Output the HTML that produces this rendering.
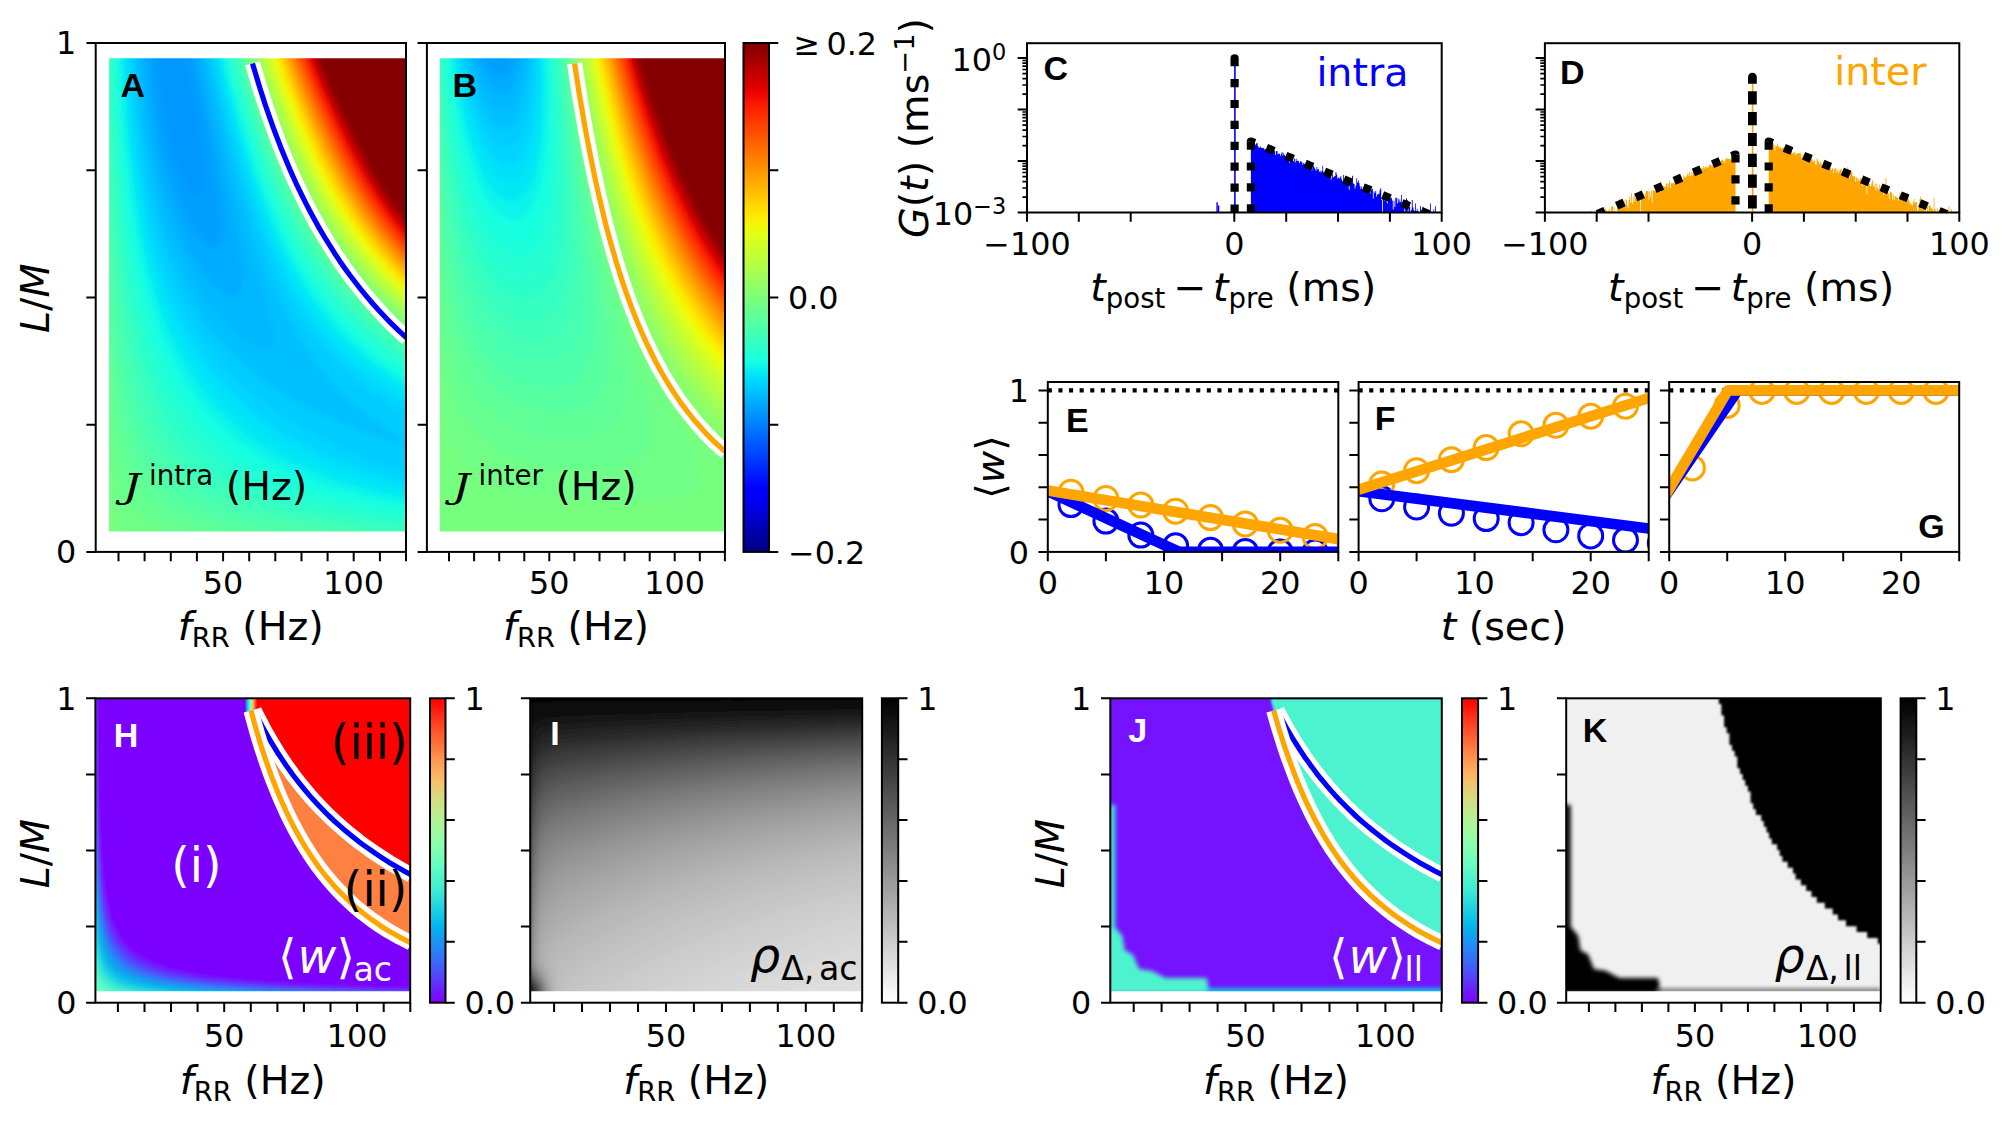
<!DOCTYPE html>
<html><head><meta charset="utf-8"><title>Figure</title>
<style>html,body{margin:0;padding:0;background:#fff}svg{display:block}text{font-family:'DejaVu Sans','Liberation Sans',sans-serif}</style></head>
<body><svg width="2008" height="1121" viewBox="0 0 2008 1121">
<rect width="2008" height="1121" fill="#fff"/>
<clipPath id="cA"><rect x="109.1" y="58.2" width="296.9" height="473.2"/></clipPath>
<g clip-path="url(#cA)">
<filter id="fcA" filterUnits="userSpaceOnUse" x="89.1" y="38.2" width="336.9" height="513.2"><feGaussianBlur stdDeviation="3"/></filter>
<g filter="url(#fcA)">
<rect x="79.1" y="28.2" width="356.9" height="533.2" fill="#0098ff"/>
<path d="M95.9,42.2 153.6,42.2 159.4,92.2 161.9,108.9 165,125.2 170.5,147.3 176,164 184.3,182.2 189.8,190.4 192.6,193.4 195.4,195.4 198.1,196.2 201.3,194.7 203.2,191.5 204.2,188.4 205.4,175.6 204.8,159.8 200.9,126.9 185.8,42.2 422,42.2 422,547.4 93.1,547.4 93.1,42.2 95.9,42.2Z" fill="#00a0ff"/>
<path d="M95.9,42.2 147,42.2 152.6,96.2 156.7,124.4 162.2,151.7 170.5,181.7 176,197.1 181.5,210.1 187.1,221 192.6,230 198.1,237.4 203.7,243.2 209.2,247 211.9,247.9 214.7,248 217.5,246.8 220.2,243.1 222.2,236 222.9,223.3 221.6,204.2 219.2,185.2 214.7,157.1 192.6,42.2 422,42.2 422,547.4 93.1,547.4 93.1,42.2 95.9,42.2Z" fill="#00acff"/>
<path d="M95.9,42.2 141.8,42.2 148,105.7 153.9,144.5 162.2,181.7 167.7,200.8 173.3,216.8 178.8,230.6 187.1,247.9 195.4,262.2 203.7,273.8 211.9,283.2 220.2,290.4 228.5,295 234.1,295.8 236.8,295.1 239.6,292.9 241.1,290 242.3,286 243,274.1 241.1,255.1 236.8,229.7 231.3,201.9 205.1,80.3 197.7,42.2 422,42.2 422,547.4 93.1,547.4 93.1,42.2 95.9,42.2Z" fill="#00b8ff"/>
<path d="M95.9,42.2 137.5,42.2 143.5,108.9 146.8,134.3 151.1,160.2 156.7,186.3 162.2,207.5 167.7,225.4 176,247.7 184.3,266 192.6,281.4 203.7,298.6 214.7,312.6 228.5,326.8 242.3,337.9 253.4,344.3 258.9,346.5 264.5,347.7 267.2,347.7 270,346.9 272.8,344 274.1,337.7 272.6,325 267.7,305.9 249.4,242.4 235.3,188.4 212.6,93 202,42.2 422,42.2 422,547.4 93.1,547.4 93.1,42.2 95.9,42.2Z" fill="#00c0ff"/>
<path d="M95.9,42.2 133.7,42.2 138.3,99.4 142.8,139.4 150.1,182 153.9,199.8 159.1,220.1 165,239.7 170.5,255.6 181.5,281.8 187.1,292.8 195.4,307.4 203.7,320.2 211.9,331.4 228.5,350.5 247.9,368.6 270,385.4 294.9,400.8 320.7,414 350.8,426.7 387.7,439.4 398.3,442.5 408.2,444.8 409.5,445.7 413.7,446.2 416.4,445.7 410.9,444.3 410,442.5 405.4,440.7 404,439.4 394.4,434.1 372.3,419.3 355.7,406.1 341.8,393.2 328,378.1 314.2,360.5 300.4,339.6 288.6,318.6 279.5,299.6 268.9,274.1 257.5,242.4 248.5,213.8 235.9,169.3 224.5,124.8 213.8,80.3 205.8,42.2 422,42.2 422,448.9 421.6,448.9 422,448.9 422,547.4 93.1,547.4 93.1,42.2 95.9,42.2Z" fill="#00ccff"/>
<path d="M95.9,42.2 130.2,42.2 134.6,101.1 138,134.3 143.4,172.5 151.1,212 159.4,243.9 165,261.3 170.5,276.5 176.1,290 184.3,307.4 198.1,331.5 206.4,343.6 214.7,354.5 225.8,367.4 236.8,378.9 247.9,389.1 261.7,400.6 275.5,410.8 289.3,420 317.6,436.2 337.2,445.7 351.8,452.1 368.1,458.4 386.7,464.8 422,474.9 422,547.4 93.1,547.4 93.1,42.2 95.9,42.2ZM211.9,42.2 422,42.2 422,421.7 402.7,412.3 380.5,399.4 364,387.8 347.4,374.2 330.8,357.9 317,341.6 303.2,322.2 291.5,302.7 280.2,280.5 268,251.9 257.5,223.3 246.2,188.4 232.7,140.7 218.3,83.5 209.3,42.2 211.9,42.2Z" fill="#00d4ff"/>
<path d="M95.9,42.2 127.1,42.2 131.4,105.7 135.2,143.9 141.6,188.4 149.1,226.5 153.9,246.1 159.4,265.3 170.5,296.5 176,309.4 184.3,326.3 198.1,349.8 206.4,361.7 217.5,375.8 228.5,388.1 238.5,398.1 249.1,407.6 261.7,417.7 274.1,426.7 289,436.2 305.9,445.7 318.7,452.1 332.9,458.4 349.1,464.8 380.5,475.1 401.1,480.7 422,485.6 422,547.4 93.1,547.4 93.1,42.2 95.9,42.2ZM214.7,42.2 422,42.2 422,410.6 399.9,398.9 380.5,386.8 364,374.7 347.4,360.5 331.2,344 317.9,328.2 304.4,309.1 293,290 281.6,267.8 270.4,242.4 259.5,213.8 248.9,182 235.8,137.5 221.7,83.5 212.4,42.2 214.7,42.2Z" fill="#00e0fb"/>
<path d="M95.9,42.2 124.1,42.2 128.1,105.7 131.9,147.1 137.8,191.5 146,236 151.1,257.5 156.7,277.2 162.2,294.1 167.7,308.9 173.3,322 180.8,337.7 187.1,349.4 195.4,363 204.3,375.8 214.7,389.1 225.6,401.2 235.2,410.8 246,420.3 258.9,430.5 271.7,439.4 286.6,448.4 299.4,455.3 312.8,461.6 328.2,468 345.9,474.3 378,483.9 422,493.9 422,547.4 93.1,547.4 93.1,42.2 95.9,42.2ZM217.5,42.2 422,42.2 422,402.1 399.9,389.8 380.5,377.2 364,364.5 350.1,352.5 336.3,338.6 322,321.8 308.7,303.5 296.4,283.7 284.7,261.4 274.5,239.2 263.1,210.6 252,178.8 238.4,134.3 226.5,89.9 215.4,42.2 217.5,42.2Z" fill="#02e8f4"/>
<path d="M95.9,42.2 121.4,42.2 125,105.7 129.1,153.4 135.1,201.1 143.1,245.6 152.4,283.7 158.3,302.7 164,318.6 170.5,334.3 176.5,347.2 184.3,361.9 192.6,375.5 201.6,388.5 211.7,401.2 220.2,410.8 231.3,421.8 244.3,433 256.2,441.9 267.2,449.3 281,457.3 295.9,464.8 310.6,471.1 327.6,477.5 341.8,482.1 358.8,487 380.5,492.5 422,500.8 422,547.4 93.1,547.4 93.1,42.2 95.9,42.2ZM220.2,42.2 422,42.2 422,394.9 402.7,383.9 383.3,371.1 366.7,358.3 350.1,343.5 336.3,329.2 322.5,312.7 310.8,296.4 298.9,277.3 287,255.1 276.6,232.8 266.2,207.4 254.8,175.6 241.8,134.3 229.5,89.9 218.1,42.2 220.2,42.2Z" fill="#0cf4eb"/>
<path d="M95.9,42.2 118.7,42.2 122.2,108.9 126.3,158.9 132,207.4 140.1,254.7 149.2,293.2 153.9,309.3 160.4,328.2 166.7,344 173.3,358.4 181.5,374.2 189.8,387.8 198.1,399.7 206.8,410.8 217.5,422.6 228.3,433 239.6,442.4 250.6,450.5 263,458.4 274.5,464.8 287.7,471.1 303.2,477.6 320.6,483.9 339.1,489.5 358.4,494.5 380.5,499.5 422,506.9 422,547.4 93.1,547.4 93.1,42.2 95.9,42.2ZM223,42.2 422,42.2 422,388.6 402.7,377.2 383.3,364 366.7,350.9 350.1,335.7 336.3,321 322.5,304 310.5,286.9 298.9,267.8 287.2,245.6 276.9,223.3 265.3,194.7 255.1,166.1 241.2,121.6 229.8,80.3 220.8,42.2 223,42.2Z" fill="#16ffe1"/>
<path d="M95.9,42.2 116.3,42.2 119.6,112.1 123.7,166.1 129.5,217 137.3,264.9 145.6,301.6 151.1,321 156.7,337.7 162.8,353.6 170.5,370.6 178.2,385.4 185.9,398.1 194.7,410.8 203.7,421.9 213.9,433 223,441.6 234.1,450.7 244.9,458.4 256.2,465.4 270,472.7 283.8,478.9 300.4,485.3 317,490.7 336.3,496.2 377.8,505.3 422,512.5 422,547.4 93.1,547.4 93.1,42.2 95.9,42.2ZM225.8,42.2 422,42.2 422,383 402.7,371.3 383.3,357.7 366.7,344.2 352.9,331.3 339.1,316.7 325.3,299.7 313.9,283.7 302,264.6 290.1,242.4 279.6,220.1 269,194.7 257.3,162.9 244.1,121.6 232.5,80.3 223.2,42.2 225.8,42.2Z" fill="#1cffdb"/>
<path d="M95.9,42.2 113.9,42.2 117.1,115.3 121.1,172.5 126.9,226.5 134.6,275.3 142.8,313.1 148.4,332.9 153.9,349.7 160.3,366.3 167.4,382.2 174,394.9 181.5,407.6 190.3,420.3 200.6,433 209.7,442.5 220.1,452.1 231.3,460.7 242.3,468 253.6,474.3 266.7,480.7 282.1,487 297.6,492.5 314.2,497.4 333.6,502.4 372.3,510.2 422,517.5 422,547.4 93.1,547.4 93.1,42.2 95.9,42.2ZM225.8,42.2 422,42.2 422,377.9 402.7,365.8 386.1,353.9 369.5,340.5 355.7,327.6 341.8,313 328.2,296.4 316.8,280.5 304.8,261.4 294.2,242.4 283.4,220.1 273.7,197.9 262.7,169.3 251.8,137.5 243.1,108.9 233.4,74 225.8,42.2Z" fill="#26ffd1"/>
<path d="M95.9,42.2 111.6,42.2 115.2,130.2 120.2,197.9 123.5,229.3 127.3,258.3 131.8,286.1 136.4,309.1 144.4,340.9 153.9,369.8 165,395.4 171.4,407.6 178.8,419.8 192.6,438.4 200.9,447.5 209,455.3 225.8,468.3 245.1,479.8 260.4,487 276.6,493.4 296.4,499.7 317,505.2 339.1,510 366.7,514.9 422,522.3 422,547.4 93.1,547.4 93.1,42.2 95.9,42.2ZM228.5,42.2 422,42.2 422,373.1 402.7,360.7 386.1,348.6 369.5,334.8 355.7,321.7 341.8,306.7 328.4,290 317,273.8 305.3,255.1 293.2,232.8 282.6,210.6 271.9,185.2 263.4,162.9 252.5,131.2 242.9,99.4 232.5,61.3 227.9,42.2 228.5,42.2Z" fill="#2cffca"/>
<path d="M95.9,42.2 109.4,42.2 112.5,128 117.3,201.1 123.5,260.5 127.3,286.9 131.8,312.3 140.1,348.3 149.7,379 160.3,404.4 166.8,417.1 173.3,427.9 178.8,436.2 187.1,446.7 194.8,455.3 201.5,461.6 209.2,468 220.2,475.9 240,487 254.3,493.4 272.8,500.1 293.2,506.1 314.2,511.1 337.5,515.6 361.2,519.4 388.8,523.1 422,526.7 422,547.4 93.1,547.4 93.1,42.2 95.9,42.2ZM231.3,42.2 422,42.2 422,368.6 402.7,355.9 386.1,343.6 369.5,329.5 355.7,316.1 343.5,302.7 330.7,286.9 319.4,271 307.5,251.9 295.3,229.7 284.5,207.4 273.6,182 263.9,156.6 254.1,128 243.4,93 230.1,42.2 231.3,42.2Z" fill="#36ffc1"/>
<path d="M95.9,42.2 107.3,42.2 110.3,134.3 114.9,210.6 120.8,271 124.7,299.6 129,325 136.8,359.9 145.6,389.1 151.1,403.7 156.7,416.2 162.2,427 169.6,439.4 181.5,455.4 189.8,464.2 198.1,471.7 206.4,478 217.5,485.2 228.5,491.2 239.6,496.3 256.2,502.6 272.8,507.8 290.9,512.4 311.4,516.8 336.3,521.1 364,524.9 422,530.9 422,547.4 93.1,547.4 93.1,42.2 95.9,42.2ZM234.1,42.2 422,42.2 422,364.3 402.7,351.4 386.1,338.8 372.3,327 357.1,312.3 342.8,296.4 330.8,281.1 319.3,264.6 307.5,245.6 295.5,223.3 284.8,201.1 274,175.6 265.5,153.4 254.6,121.6 243,83.5 232.2,42.2 234.1,42.2Z" fill="#3cffba"/>
<path d="M95.9,42.2 105.2,42.2 107.8,134.3 111.7,210.6 117.5,277.3 120.7,304 124.4,328.2 131.8,365.5 136.1,382.2 140.8,398.1 145.6,411.5 151.1,424.7 156.8,436.2 164.3,448.9 171.1,458.4 178.8,467.4 185.9,474.3 193.4,480.7 202.4,487 213,493.4 225.8,499.6 236.8,504.2 251.6,509.3 270,514.4 289.3,518.8 308.7,522.4 358.4,529.2 422,534.9 422,547.4 93.1,547.4 93.1,42.2 95.9,42.2ZM236.8,42.2 422,42.2 422,360.3 405.4,349.2 388.8,336.6 372.3,322.3 358.4,308.7 344.6,293.2 332.1,277.3 321,261.4 309.2,242.4 297.1,220.1 286.4,197.9 276.7,175.6 265.7,147.1 252.9,108.9 241.7,70.8 234.3,42.2 236.8,42.2Z" fill="#46ffb1"/>
<path d="M95.9,42.2 103.2,42.2 105.6,140.7 109.3,220.1 114.5,286.9 120.7,337.8 124.5,359.9 128.4,379 132.3,394.9 136.9,410.8 141.3,423.5 146.6,436.2 152.9,448.9 158.6,458.4 165.5,468 173.3,476.7 180.9,483.9 189.1,490.2 199,496.6 209.2,502 220.2,506.9 234.1,512 250.6,516.9 267.2,520.9 289.3,525.2 309.8,528.3 361.2,534.2 422,538.7 422,547.4 93.1,547.4 93.1,42.2 95.9,42.2ZM236.8,42.2 422,42.2 422,356.5 405.4,345.1 388.8,332.3 375,320.3 360.3,305.9 346.1,290 333.7,274.1 322.5,258.2 311.4,240.4 301.9,223.3 290.7,201.1 279.4,175.6 269.4,150.2 260.3,124.8 250.2,93 240.3,58.1 236.3,42.2 236.8,42.2Z" fill="#4dffaa"/>
<path d="M95.9,42.2 101.3,42.2 103.4,143.9 106.4,223.3 110.8,290 116.4,344 119.7,366.3 123.5,387.5 127.2,404.4 131.5,420.3 135.6,433 140.5,445.7 145.6,456.7 152.2,468 159.2,477.5 165,484 173.3,491.7 181.5,497.9 189.8,503.1 201.9,509.3 214.7,514.4 228,518.8 245.1,523.3 261.7,526.8 303.2,533.1 355.7,538.2 422,542.4 422,547.4 93.1,547.4 93.1,42.2 95.9,42.2ZM239.6,42.2 422,42.2 422,352.8 405.4,341.3 388.8,328.2 375,316 361.2,302.3 347.5,286.9 335,271 323.9,255.1 312.1,236 301.5,217 290.5,194.7 279.4,169.3 270.6,147.1 260.4,118.5 249.5,83.5 238.2,42.2 239.6,42.2Z" fill="#56ffa0"/>
<path d="M95.9,42.2 99.4,42.2 101.2,150.2 103.8,232.8 107.5,299.6 112.4,354.6 118.1,394.9 121.7,414 125.5,429.8 130.2,445.7 134.6,457.4 139.4,468 144.9,477.5 151.9,487 159.4,495.1 167.7,502.2 176,507.8 187.1,513.7 198.1,518.5 209.2,522.3 223,526.2 253.4,532.3 292.1,537.5 347.4,542.1 422,545.9 422,547.4 93.1,547.4 93.1,42.2 95.9,42.2ZM242.3,42.2 422,42.2 422,349.3 405.4,337.6 388.8,324.3 375,311.9 361.2,297.9 348.7,283.7 336.3,267.8 325.2,251.9 313.3,232.8 301.1,210.6 290.2,188.4 280.5,166.1 270.5,140.7 259.4,108.9 248.7,74 240.1,42.2 242.3,42.2Z" fill="#60ff97"/>
<path d="M95.9,42.2 97.6,42.2 99.1,159.8 101.6,255.1 104.2,310.6 107.7,359.9 112.4,403.3 118.1,436.2 121.1,448.9 124.8,461.6 129,472.8 134.4,483.9 140.1,492.8 145.7,499.7 152.1,506.1 160.3,512.4 167.7,517 177.8,522 189.8,526.5 200.9,529.8 228.5,535.7 264.5,540.5 308.7,544.3 367.6,547.4 93.1,547.4 93.1,42.2 95.9,42.2ZM242.3,42.2 422,42.2 422,345.9 405.4,334 391.6,322.9 377.8,310.6 363.7,296.4 350.1,281.1 339.1,267 328,251.4 316.3,232.8 305.5,213.8 294.3,191.5 284.3,169.3 275.2,147.1 265.8,121.6 257.4,96.2 247,61.3 241.9,42.2 242.3,42.2Z" fill="#66ff90"/>
<path d="M95.8,45.4 98,232.8 99.7,299.6 102.1,353.6 105.1,398.1 109.3,436.2 113.7,461.6 116.9,474.3 120,483.9 123.5,492.4 127.4,499.7 131.8,506.4 137,512.4 142.8,517.9 148.4,521.9 162.2,529.2 170.5,532.4 181.5,535.7 203.7,540.3 233.8,544.2 273,547.4 93.1,547.4 93.1,42.2 95.8,42.2 95.8,45.4ZM245.1,42.2 422,42.2 422,342.6 405.4,330.5 391.6,319.3 377.8,306.8 364,292.7 350.6,277.3 338.3,261.4 327.2,245.6 315.4,226.5 304.8,207.4 293.8,185.2 282.5,159.8 273.7,137.5 263.5,108.9 254.4,80.3 243.7,42.2 245.1,42.2Z" fill="#70ff87"/>
<path d="M94.1,45.4 95.1,232.8 97.2,353.6 98.6,398.1 100.7,436.2 102.9,461.6 106,483.9 109.7,500 114.3,512.4 120,522 126.3,528.8 134.6,534.7 140.9,537.9 148.4,540.7 162.2,544.3 181.4,547.4 93.1,547.4 93.1,42.2 94.1,42.2 94.1,45.4ZM247.9,42.2 422,42.2 422,339.5 405.4,327.2 391.6,315.8 377.8,303.1 364,288.8 351.3,274.1 339.1,258.3 328,242.2 316.3,223.3 304.1,201.1 294.7,182 284.8,159.8 274.6,134.3 263.3,102.6 252.5,67.6 245.4,42.2 247.9,42.2Z" fill="#77ff80"/>
<path d="M247.9,42.2 422,42.2 422,336.5 408.2,326.2 394.4,314.9 380.5,302.2 365.5,286.9 351.9,271 339.8,255.1 328.8,239.2 319,223.3 308.2,204.2 297.6,183.2 287,159.8 278.3,138.5 267.4,108.9 259.1,83.5 248,45.4 247.2,42.2 247.9,42.2Z" fill="#80ff77"/>
<path d="M250.6,42.2 422,42.2 422,333.8 406.2,321.8 391.6,309.5 377.8,296.4 365.7,283.7 352.9,268.6 341.8,254.2 330.8,238.2 319.6,220.1 309,201.1 299.3,182 287.9,156.6 278.8,134.3 268.4,105.7 258.1,74 249,42.2 250.6,42.2Z" fill="#87ff70"/>
<path d="M253.4,42.2 422,42.2 422,331.3 405.6,318.6 391.6,306.6 377.8,293.3 365.8,280.5 352.9,265.2 341.8,250.5 330.8,234.3 320.2,217 309.6,197.9 298.6,175.6 288.7,153.4 279.7,131.2 268.3,99.4 257.2,64.4 250.8,42.2 253.4,42.2Z" fill="#90ff66"/>
<path d="M253.4,42.2 422,42.2 422,328.8 405.4,315.9 391.6,303.8 377.8,290.3 366.7,278.4 355.1,264.6 343.1,248.7 332.3,232.8 322.5,217 311.9,197.9 302.3,178.8 293.6,159.8 284.3,137.5 274.7,112.1 266,86.7 252.6,42.2 253.4,42.2Z" fill="#97ff60"/>
<path d="M256.2,42.2 422,42.2 422,326.4 408,315.5 394.4,303.6 380.5,290.2 368.5,277.3 355.7,262 344.6,247.3 333.6,231 323,213.8 312.5,194.7 301.5,172.5 291.6,150.2 282.6,128 272.2,99.4 262.8,70.8 254.3,42.2 256.2,42.2Z" fill="#a0ff56"/>
<path d="M256.2,42.2 422,42.2 422,324 408.2,313 394.4,300.9 380.5,287.4 369.5,275.4 357.8,261.4 345.8,245.6 335,229.7 325.3,213.8 316.4,197.9 306.6,178.8 296.4,156.6 288.4,137.5 279.8,115.3 270.8,89.9 262.6,64.4 256.2,42.2Z" fill="#aaff4d"/>
<path d="M258.9,42.2 422,42.2 422,321.6 408.2,310.6 394.4,298.3 380.5,284.6 369.5,272.4 357.8,258.3 345.9,242.4 335.3,226.5 325.6,210.6 315.1,191.5 307.2,175.6 297,153.4 287.8,131.2 277.1,102.6 268.4,77.2 257.7,42.2 258.9,42.2Z" fill="#b1ff46"/>
<path d="M261.7,42.2 422,42.2 422,319.3 408.2,308.1 394.4,295.6 382.4,283.7 369.5,269.5 357.7,255.1 346,239.2 335.5,223.3 326,207.4 315.6,188.4 306.2,169.3 296.3,147.1 287.2,124.8 274.4,89.9 265.1,61.3 259.4,42.2 261.7,42.2Z" fill="#baff3c"/>
<path d="M261.7,42.2 422,42.2 422,317 408.5,305.9 397.1,295.7 385,283.7 372.3,269.8 361.2,256.5 350.1,241.8 339.7,226.5 329.9,210.6 321,194.7 311.2,175.6 302.4,156.6 292.9,134.3 283,108.9 274,83.5 261,42.2 261.7,42.2Z" fill="#c1ff36"/>
<path d="M264.5,42.2 422,42.2 422,314.8 408.2,303.3 397.1,293.2 384.5,280.5 372.3,267 361.2,253.5 350.6,239.2 339.8,223.3 330.2,207.4 319.7,188.4 310.1,169.3 301.5,150.2 290.9,124.8 279,93 269.4,64.4 262.6,42.2 264.5,42.2Z" fill="#caff2c"/>
<path d="M264.5,42.2 422,42.2 422,312.5 408.2,300.9 396.4,290 383.9,277.3 372.6,264.6 361.2,250.5 350.5,236 332.2,207.4 323.3,191.5 313.6,172.5 296.6,134.3 287.8,112.1 277.4,83.5 268,54.9 264.5,42.2Z" fill="#d1ff26"/>
<path d="M267.2,42.2 422,42.2 422,310.3 408.2,298.6 395.7,286.9 383.4,274.1 372.3,261.4 361.2,247.6 350.4,232.8 332.4,204.2 323.6,188.4 314,169.3 305.2,150.2 295.8,128 284.8,99.4 274.7,70.8 265.6,42.2 267.2,42.2Z" fill="#dbff1c"/>
<path d="M267.2,42.2 422,42.2 422,308.2 408.3,296.4 397.1,285.8 385.8,274.1 374.5,261.4 364,248.4 352.9,233.3 344.1,220.1 334.4,204.2 323.8,185.2 315.8,169.3 298.9,131.2 281.8,86.7 267.2,42.2Z" fill="#e4ff13"/>
<path d="M270,42.2 422,42.2 422,306 408.2,294 397.1,283.4 385.2,271 374.1,258.3 363.9,245.6 352.9,230.4 344,217 334.5,201.1 325.7,185.2 316.1,166.1 307.4,147.1 298,124.8 288.1,99.4 277.9,70.8 268.6,42.2 270,42.2Z" fill="#ebff0c"/>
<path d="M272.8,42.2 422,42.2 422,303.9 408.2,291.7 396.6,280.5 384.6,267.8 373.6,255.1 363.6,242.4 352.9,227.4 344,213.8 334.6,197.9 324.3,178.8 314.9,159.8 305,137.5 295.9,115.3 282.7,80.3 270.1,42.2 272.8,42.2Z" fill="#f4f802"/>
<path d="M272.8,42.2 422,42.2 422,301.8 408.7,290 397.1,278.7 386.1,267 375,254.1 364,240.1 354.3,226.5 336.4,197.9 327.7,182 318.2,162.9 301.4,124.8 282,74 271.6,42.2 272.8,42.2Z" fill="#fbf100"/>
<path d="M275.5,42.2 422,42.2 422,299.7 410.9,289.9 398,277.3 386.1,264.6 375.3,251.9 356.2,226.5 338.3,197.9 327.9,178.8 318.4,159.8 309.8,140.7 299.1,115.3 284.7,77.2 273,42.2 275.5,42.2Z" fill="#ffe600"/>
<path d="M275.5,42.2 422,42.2 422,297.7 399.9,277 388.3,264.6 377.4,251.9 358.2,226.5 340.1,197.9 331.3,182 321.7,162.9 304.6,124.8 285,74 274.4,42.2 275.5,42.2Z" fill="#ffde00"/>
<path d="M278.3,42.2 422,42.2 422,295.6 399.3,274.1 387.6,261.4 376.8,248.7 357.9,223.3 340.1,194.7 331.4,178.8 321.8,159.8 313.1,140.7 302.3,115.3 287.6,77.2 275.8,42.2 278.3,42.2Z" fill="#ffd300"/>
<path d="M278.3,42.2 422,42.2 422,293.6 410.9,283.5 398.4,271 377.8,247.5 359.8,223.3 341.8,194.7 333.1,178.8 323.5,159.8 306.5,121.6 296.3,96.2 286.8,70.8 277.1,42.2 278.3,42.2Z" fill="#ffcc00"/>
<path d="M281,42.2 422,42.2 422,291.6 399.9,270.3 388.8,258.2 377.8,245.1 359.4,220.1 341.8,191.5 323.6,156.6 304.1,112.1 290.5,77.2 278.5,42.2 281,42.2Z" fill="#ffc100"/>
<path d="M281,42.2 422,42.2 422,289.6 399.6,267.8 388.1,255.1 377.8,242.6 359.1,217 343.5,191.5 326.8,159.8 308.3,118.5 296.7,89.9 288.5,67.6 279.8,42.2 281,42.2Z" fill="#ffb600"/>
<path d="M283.8,42.2 422,42.2 422,287.6 399.9,265.9 379.5,242.4 360.9,217 343.4,188.4 333.2,169.3 323.8,150.2 304.5,105.7 293.3,77.2 281.2,42.2 283.8,42.2Z" fill="#ffae00"/>
<path d="M283.8,42.2 422,42.2 422,285.7 399.9,263.8 378.8,239.2 361.2,214.7 345,188.4 326.9,153.4 309.9,115.3 298.4,86.7 290.1,64.4 282.4,42.2 283.8,42.2Z" fill="#ffa300"/>
<path d="M283.8,42.2 422,42.2 422,283.8 399.9,261.7 380.7,239.2 362.3,213.8 346.7,188.4 331.6,159.8 315.5,124.8 298.5,83.5 283.8,42.2Z" fill="#ff9c00"/>
<path d="M286.6,42.2 422,42.2 422,281.9 399.9,259.6 380.5,236.7 361.9,210.6 346.5,185.2 328.5,150.2 310.2,108.9 299.9,83.5 290.5,58.1 285,42.2 286.6,42.2Z" fill="#ff9100"/>
<path d="M286.6,42.2 422,42.2 422,280 400.6,258.3 381.8,236 364,211.2 348.1,185.2 331.5,153.4 315.7,118.5 298.8,77.2 290.6,54.9 286.6,42.2Z" fill="#ff8900"/>
<path d="M289.3,42.2 422,42.2 422,278.1 399.9,255.4 381.1,232.8 364,208.6 347.9,182 331.5,150.2 313,108.9 298.9,74 287.5,42.2 289.3,42.2Z" fill="#ff7e00"/>
<path d="M289.3,42.2 422,42.2 422,276.2 401.4,255.1 383.3,233.5 366.9,210.6 351.3,185.2 334.5,153.4 318.5,118.5 300.2,74 288.8,42.2 289.3,42.2Z" fill="#ff7700"/>
<path d="M292.1,42.2 422,42.2 422,274.3 402.7,254.4 383.3,231.3 366.4,207.4 351,182 332.9,147.1 313.1,102.6 301.5,74 290,42.2 292.1,42.2Z" fill="#ff6c00"/>
<path d="M292.1,42.2 422,42.2 422,272.5 402.2,251.9 383.8,229.7 368.1,207.4 352.6,182 335.9,150.2 318.5,112.1 299.2,64.4 291.2,42.2 292.1,42.2Z" fill="#ff6000"/>
<path d="M294.9,42.2 422,42.2 422,270.7 402.7,250.5 385.4,229.7 367.6,204.2 352.3,178.8 342.1,159.8 332.8,140.7 313.1,96.2 301.6,67.6 292.4,42.2 294.9,42.2Z" fill="#ff5900"/>
<path d="M294.9,42.2 422,42.2 422,268.9 402.7,248.5 384.7,226.5 369.1,204.2 353.8,178.8 337.3,147.1 318.5,105.7 307.8,80.3 299.3,58.1 293.6,42.2 294.9,42.2Z" fill="#ff4e00"/>
<path d="M294.9,42.2 422,42.2 422,267.1 402.7,246.5 386.3,226.5 370.7,204.2 355.3,178.8 340.2,150.2 324,115.3 307.8,77.2 294.9,42.2Z" fill="#ff4700"/>
<path d="M297.6,42.2 422,42.2 422,265.3 402.7,244.6 385.5,223.3 370.2,201.1 355,175.6 337,140.7 318.3,99.4 306.5,70.8 295.9,42.2 297.6,42.2Z" fill="#ff3b00"/>
<path d="M297.6,42.2 422,42.2 422,263.5 402.7,242.7 387.1,223.3 371.7,201.1 356.4,175.6 339.9,143.9 323.8,108.9 307.7,70.8 297.1,42.2 297.6,42.2Z" fill="#ff3400"/>
<path d="M300.4,42.2 422,42.2 422,261.7 402.7,240.7 386.3,220.1 371.1,197.9 356.1,172.5 338.2,137.5 318.1,93 307.7,67.6 298.2,42.2 300.4,42.2Z" fill="#ff2900"/>
<path d="M300.4,42.2 422,42.2 422,260 403,239.2 387.9,220.1 372.6,197.9 357.5,172.5 341.1,140.7 323.5,102.6 306.4,61.3 299.3,42.2 300.4,42.2Z" fill="#ff1e00"/>
<path d="M303.2,42.2 422,42.2 422,258.2 404.6,239.2 387.1,217 372.1,194.7 357.1,169.3 337.8,131.2 317.9,86.7 300.5,42.2 303.2,42.2Z" fill="#ff1600"/>
<path d="M303.2,42.2 422,42.2 422,256.5 405.4,238.3 388.8,217.3 373.5,194.7 360.3,172.5 342.2,137.5 321.8,93 311.2,67.6 301.6,42.2 303.2,42.2Z" fill="#f60b00"/>
<path d="M303.2,42.2 422,42.2 422,254.8 405,236 390.1,217 375,194.8 361.7,172.5 346.6,143.9 328.7,105.7 312.4,67.6 302.7,42.2 303.2,42.2Z" fill="#ed0400"/>
<path d="M305.9,42.2 422,42.2 422,253.1 405.4,234.6 389.3,213.8 374.4,191.5 359.5,166.1 341.7,131.2 321.5,86.7 303.8,42.2 305.9,42.2Z" fill="#df0000"/>
<path d="M305.9,42.2 422,42.2 422,251.4 405.5,232.8 390.7,213.8 375.8,191.5 362.6,169.3 346.1,137.5 326.8,96.2 309.6,54.9 304.8,42.2 305.9,42.2Z" fill="#d60000"/>
<path d="M308.7,42.2 422,42.2 422,249.7 405.4,230.9 389.9,210.6 375.2,188.4 360.4,162.9 342.7,128 321.1,80.3 305.9,42.2 308.7,42.2Z" fill="#c80000"/>
<path d="M308.7,42.2 422,42.2 422,248 405.9,229.7 391.4,210.6 376.5,188.4 363.5,166.1 345.5,131.2 326.4,89.9 315.6,64.4 307,42.2 308.7,42.2Z" fill="#bf0000"/>
<path d="M308.7,42.2 422,42.2 422,246.4 407.4,229.7 392.8,210.6 377.9,188.4 364.8,166.1 348.3,134.3 328.9,93 315.4,61.3 308,42.2 308.7,42.2Z" fill="#b20000"/>
<path d="M311.4,42.2 422,42.2 422,244.7 406.3,226.5 391.6,206.9 377.3,185.2 362.6,159.8 346.4,128 325.8,83.5 309.1,42.2 311.4,42.2Z" fill="#a40000"/>
<path d="M311.4,42.2 422,42.2 422,243.1 407.7,226.5 393.3,207.4 378.6,185.2 365.7,162.9 349.2,131.2 329.8,89.9 320.2,67.6 310.1,42.2 311.4,42.2Z" fill="#9b0000"/>
<path d="M311.4,42.2 422,42.2 422,241.4 406.6,223.3 392.5,204.2 380,185.2 366.7,162.6 352,134.3 332.4,93 319.7,63.9 311.4,42.2Z" fill="#8d0000"/>
<path d="M314.2,42.2 422,42.2 422,239.8 408.1,223.3 393.8,204.2 379.3,182 366.4,159.8 350,128 330.6,86.7 313.4,45.4 312.6,42.2 314.2,42.2Z" fill="#840000"/>
</g>
</g>
<clipPath id="axA"><rect x="95.7" y="43" width="310.3" height="508.9"/></clipPath>
<g stroke-linejoin="round" clip-path="url(#axA)"><polyline points="252.5,63.4 254.6,70.4 256.7,77.5 258.8,84.5 261,91.6 263.3,98.6 265.6,105.7 268,112.7 270.5,119.8 273,126.8 275.6,133.9 278.3,140.9 281,148 283.9,155.1 286.8,162.1 289.8,169.2 292.9,176.2 296.1,183.3 299.5,190.3 302.9,197.4 306.4,204.4 310.1,211.5 313.9,218.5 317.8,225.6 321.9,232.6 326.1,239.7 330.5,246.7 335,253.8 339.7,260.9 344.6,267.9 349.7,275 355.1,282 360.6,289.1 366.4,296.1 372.4,303.2 378.7,310.2 385.3,317.3 392.2,324.3 399.5,331.4 407.1,338.4" fill="none" stroke="#fff" stroke-width="15.2" /><polyline points="252.5,63.4 254.6,70.4 256.7,77.5 258.8,84.5 261,91.6 263.3,98.6 265.6,105.7 268,112.7 270.5,119.8 273,126.8 275.6,133.9 278.3,140.9 281,148 283.9,155.1 286.8,162.1 289.8,169.2 292.9,176.2 296.1,183.3 299.5,190.3 302.9,197.4 306.4,204.4 310.1,211.5 313.9,218.5 317.8,225.6 321.9,232.6 326.1,239.7 330.5,246.7 335,253.8 339.7,260.9 344.6,267.9 349.7,275 355.1,282 360.6,289.1 366.4,296.1 372.4,303.2 378.7,310.2 385.3,317.3 392.2,324.3 399.5,331.4 407.1,338.4" fill="none" stroke="#0000ff" stroke-width="5.2" /></g>
<clipPath id="cB"><rect x="439.8" y="58.2" width="285.2" height="473.2"/></clipPath>
<g clip-path="url(#cB)">
<filter id="fcB" filterUnits="userSpaceOnUse" x="419.8" y="38.2" width="325.2" height="513.2"><feGaussianBlur stdDeviation="3"/></filter>
<g filter="url(#fcB)">
<rect x="409.8" y="28.2" width="345.2" height="533.2" fill="#008cff"/>
<path d="M426.5,42.2 492.3,42.2 495.8,44.1 498.4,44.4 501.1,43.6 503.2,42.2 741,42.2 741,547.4 423.8,547.4 423.8,42.2 426.5,42.2Z" fill="#0098ff"/>
<path d="M426.5,42.2 481.5,42.2 485.1,49.1 490.4,56.3 495.8,60.1 498.4,60.8 501.1,60.5 503.8,59.3 506.4,57 510,51.7 514.1,42.2 741,42.2 741,547.4 423.8,547.4 423.8,42.2 426.5,42.2Z" fill="#00a0ff"/>
<path d="M426.5,42.2 475.4,42.2 482.4,59.6 487.8,68.6 493.1,74.5 495.8,76.2 498.4,77.2 501.1,77.4 503.8,76.7 506.4,75 509.1,72.3 511.8,68.2 514.4,62.5 517.1,54.9 520.1,42.2 741,42.2 741,547.4 423.8,547.4 423.8,42.2 426.5,42.2Z" fill="#00acff"/>
<path d="M426.5,42.2 470.6,42.2 477.1,62.7 479.8,69.3 485.1,80 487.8,84.2 493.1,90.4 498.4,93.7 501.1,94.3 503.8,94 506.4,92.9 509.1,90.9 511.8,87.8 514.4,83.3 517.1,77.2 520.1,67.6 522.4,57.5 524.9,42.2 741,42.2 741,547.4 423.8,547.4 423.8,42.2 426.5,42.2Z" fill="#00b8ff"/>
<path d="M426.5,42.2 466.6,42.2 474.4,70.9 479.8,85 485.1,95.7 490.4,103.6 495.8,108.7 501.1,111.1 503.8,111.3 506.4,110.7 509.1,109.3 511.8,107 516.8,99.4 519.8,92.4 522.4,83.7 525.1,71.6 528.9,42.2 741,42.2 741,547.4 423.8,547.4 423.8,42.2 426.5,42.2Z" fill="#00c0ff"/>
<path d="M426.5,42.2 463,42.2 466.4,58.3 471.8,78.5 477.1,94.3 482.4,106.7 487.8,116 493.1,122.7 498.4,126.9 503.8,128.6 506.4,128.5 509.1,127.6 511.8,126 514.4,123.4 519.5,115.3 522.4,108.2 525.8,96.2 528.8,80.3 530.8,64.4 532.5,42.2 741,42.2 741,547.4 423.8,547.4 423.8,42.2 426.5,42.2Z" fill="#00ccff"/>
<path d="M426.5,42.2 459.8,42.2 463.8,63.3 469.1,85.7 474.4,103.3 479.8,117.1 485.1,127.8 487.8,132.2 493.1,139 495.8,141.6 501.1,145.1 506.4,146.2 511.8,144.8 517.1,140.2 522.4,131.4 527,118.5 530.4,102.9 532.7,86.7 534.4,67.6 535.8,42.2 741,42.2 741,547.4 423.8,547.4 423.8,42.2 426.5,42.2Z" fill="#00d4ff"/>
<path d="M426.5,42.2 456.8,42.2 461.1,67.7 466.4,92.4 471.8,111.8 479.8,133.5 485.1,144.2 493.1,155.6 495.8,158.3 501.1,162.2 506.4,163.9 509.1,164 514.4,162.2 517.1,160.3 522.4,153.7 527.1,143.9 530.4,133.1 533.4,118.5 536.2,96.2 537.9,70.8 538.7,42.2 741,42.2 741,547.4 423.8,547.4 423.8,42.2 426.5,42.2Z" fill="#00e0fb"/>
<path d="M426.5,42.2 454,42.2 458.5,71.5 463.8,98.8 469.1,120.1 477.1,144 485.1,160.9 493.1,172.4 495.8,175.2 501.1,179.4 506.4,181.7 509.1,182.1 514.4,181.3 517.1,180 519.8,178.1 524.5,172.5 527.8,166.8 530.4,160.4 534.2,147.1 537.6,128 539.8,105.7 541.2,77.2 541.5,42.2 741,42.2 741,547.4 423.8,547.4 423.8,42.2 426.5,42.2Z" fill="#02e8f4"/>
<path d="M426.5,42.2 451.4,42.2 455.8,74.6 461.1,104.8 466.4,128.1 474.4,154.3 482.4,172.9 487.8,182.2 493.1,189.4 498.4,194.8 503.8,198.4 509.1,200.3 511.8,200.5 517.1,199.6 519.8,198.3 524.2,194.7 527.8,190.3 530.4,185.7 533.4,178.8 535.8,171.7 538.4,160.7 541.5,140.7 543.7,112.1 544.4,80.3 544.1,42.2 741,42.2 741,547.4 423.8,547.4 423.8,42.2 426.5,42.2Z" fill="#0cf4eb"/>
<path d="M426.5,42.2 448.9,42.2 453.6,80.3 460,118.5 466.4,146.7 474.4,172.1 482.4,190.3 487.8,199.5 493.1,206.8 498.4,212.3 503.8,216.2 509.1,218.5 514.4,219.3 519.8,218.3 525.1,215.3 527.8,212.9 531.8,207.4 535.8,199.9 538.4,192.8 542.6,175.6 545.5,153.4 547.2,124.8 547.6,89.9 546.6,42.2 741,42.2 741,547.4 423.8,547.4 423.8,42.2 426.5,42.2Z" fill="#16ffe1"/>
<path d="M426.5,42.2 446.6,42.2 453.1,98.6 460.4,140.7 463.8,155.5 469.1,174.9 474.4,190.4 479.8,202.9 487.8,217.2 493.1,224.4 498.4,230 503.8,234.2 509.1,236.9 514.4,238.3 517.1,238.4 522.4,237.5 527.8,234.8 533.1,229.7 535.8,225.9 538.9,220.1 542.5,210.6 547,191.5 549.9,166.1 551.1,134.3 550.9,96.2 548.9,42.2 741,42.2 741,547.4 423.8,547.4 423.8,42.2 426.5,42.2Z" fill="#1cffdb"/>
<path d="M426.5,42.2 444.3,42.2 450.5,101.8 457.5,147.1 461.1,164.5 466.4,185.5 471.8,202.1 477.1,215.6 482.4,226.5 487.8,235.3 493.1,242.5 498.4,248.2 503.8,252.5 509.1,255.6 514.4,257.4 519.8,258 525.1,257.2 530.4,254.9 535.8,250.5 541.1,243.2 543.7,238 546.9,229.7 549.5,220.1 551.8,207.4 554.4,179.8 555.1,147.1 554.2,105.7 551.2,42.2 741,42.2 741,547.4 423.8,547.4 423.8,42.2 426.5,42.2Z" fill="#26ffd1"/>
<path d="M426.5,42.2 442.1,42.2 447.8,104.3 451.2,131.2 455.2,156.6 458.9,175.6 463.8,196.4 469.1,214.3 474.4,228.6 479.8,240.3 485.1,249.9 490.4,257.7 495.8,264 501.1,269.1 509.1,274.5 517.1,277.4 522.4,278 530.4,276.7 535.5,274.1 541.1,269.3 544.6,264.6 549.1,256.3 551.9,248.7 554.5,239.2 557.1,223.9 559.2,194.7 559.4,159.8 557.4,108.9 553.3,42.2 741,42.2 741,547.4 423.8,547.4 423.8,42.2 426.5,42.2Z" fill="#2cffca"/>
<path d="M426.5,42.2 440.1,42.2 445.4,108.9 448.7,137.5 452.7,166.1 456.8,188.4 461.1,207.9 466.4,227 471.8,242.3 477.1,254.7 482.4,264.8 487.8,273.2 495.8,283 501.1,288.1 509.1,293.7 517.1,297.2 525.1,298.6 533.1,297.7 538.4,295.6 543.7,291.9 549.1,286.1 554.2,277.3 557.1,269.9 560.2,258.3 562.4,245 563.8,229.7 564.5,213.8 564,175.6 561.4,124.8 555.4,42.2 741,42.2 741,547.4 423.8,547.4 423.8,42.2 426.5,42.2Z" fill="#36ffc1"/>
<path d="M426.5,42.2 438.1,42.2 443.2,115.3 446.5,147.1 450.2,175.6 453.9,197.9 458.5,220.2 463.8,240.6 469.1,256.7 474.4,269.8 481.6,283.7 487.8,293.1 495.8,302.7 503.8,309.8 511.8,314.9 517.1,317.3 522.4,318.9 530.4,319.8 538.4,318.7 545.8,315.5 551.7,310.8 557.1,304.2 561.2,296.4 565.1,285.2 567.5,274.1 569.1,261.4 570.4,232.8 569.1,191.5 565.2,134.3 557.4,42.2 741,42.2 741,547.4 423.8,547.4 423.8,42.2 426.5,42.2Z" fill="#3cffba"/>
<path d="M426.5,42.2 436.1,42.2 438.5,86.7 441.2,124.8 444.5,159.8 447.8,187.1 451.4,210.6 455.8,233.7 461.1,255.3 467.1,274.1 473.7,290 479.8,301.8 487.8,313.9 495.8,323.1 503.8,330.1 514.4,336.7 525.1,340.5 535.8,341.6 543.7,340.6 551.7,337.5 556.2,334.5 559.7,331.4 564.8,325 569.6,315.5 572.7,305.9 574.7,296.4 576.3,283.7 577.1,255.1 575.2,213.8 570.6,159.8 559.4,42.2 741,42.2 741,547.4 423.8,547.4 423.8,42.2 426.5,42.2Z" fill="#46ffb1"/>
<path d="M426.5,42.2 434.2,42.2 438.9,131.2 442,169.3 445.1,198.1 449.1,226.5 453.8,251.9 458.5,271.7 465.1,293.2 471.8,309.5 479.8,324.4 487.8,335.7 495.8,344.5 506.4,353.1 517.1,359.1 522.4,361.2 530.4,363.3 541.1,364.3 551.7,362.9 559.7,359.9 567.7,354.2 573.1,348 577.2,340.9 581.1,330.3 583.5,318.6 584.8,305.9 585.2,293.2 585,277.3 582.4,239.2 561.3,42.2 741,42.2 741,547.4 423.8,547.4 423.8,42.2 426.5,42.2Z" fill="#4dffaa"/>
<path d="M426.5,42.2 432.4,42.2 434.5,96.7 437.4,150.2 440.8,194.7 445.1,233.1 449,258.3 453.1,279.3 457.4,296.4 462.4,312.3 469.1,329.1 477.1,344.2 485.1,355.6 495.8,367 506.4,375.3 519.8,382.3 533.1,386.5 546.4,388 557.1,387.2 565.1,385.2 573.1,381.4 581.1,374.8 586.4,367.6 591.1,356.8 593.9,344 595.1,331.3 594.7,305.9 591.7,272 572.3,121.6 563.1,42.2 741,42.2 741,547.4 423.8,547.4 423.8,42.2 426.5,42.2Z" fill="#56ffa0"/>
<path d="M426.5,42.2 430.6,42.2 432.6,105.7 435,159.8 437.9,204.2 441.8,245.6 445.1,271.3 449.5,296.4 453.9,315.5 459.7,334.5 466.4,351.5 474.4,366.3 479.8,374.2 485.1,380.8 495.8,391.2 509.1,400.4 517.1,404.5 525.1,407.6 541.1,411.7 549.1,412.7 557.1,413 567.7,412.1 578.4,409.6 586.4,406 594.4,400 600.7,391.7 604.8,382.2 607,372.6 608,359.9 607.5,340.9 604.7,315.5 579.7,156.6 571.8,99.4 564.9,42.2 741,42.2 741,547.4 423.8,547.4 423.8,42.2 426.5,42.2Z" fill="#60ff97"/>
<path d="M426.5,42.2 428.9,42.2 430.6,115.3 432.6,172.5 435.1,220.1 438.3,261.4 441.9,293.2 446,318.6 450.5,339.4 456.5,359.9 463.8,377.7 469.1,387.7 473.8,394.9 484.3,407.6 495.8,417.5 503.8,422.9 511.8,427.2 527.8,433.5 546.4,437.9 557.1,439.2 567.7,439.6 581.1,438.9 594.4,436.3 605.1,432.1 613,426.7 618.6,420.3 621.1,415.9 623.1,410.8 625.1,401.2 625.6,391.7 624.5,375.8 621.1,353.6 598.5,245.6 585.7,175.6 576.3,115.3 566.6,42.2 741,42.2 741,547.4 423.8,547.4 423.8,42.2 426.5,42.2Z" fill="#66ff90"/>
<path d="M426.5,42.2 427.2,42.2 428.7,134.3 430.5,201.1 432.4,245.6 435,286.9 438.4,321.8 442.5,349.7 447.8,374.6 454.2,394.9 461.5,410.8 466.4,419.1 471.8,426.4 477.1,432.5 484.5,439.4 490.4,443.9 498.4,449 506.4,453.1 517.1,457.6 527.8,461 538.4,463.7 562.4,467.6 586.4,468.8 602.4,468.1 615.7,466.2 626.4,463.6 637,458.9 642.3,455.3 645,452.5 649.4,445.7 651.3,439.4 652,429.8 650.5,417.1 647.7,404.4 617.4,302.7 608.3,267.8 598.8,226.5 590.5,185.2 582.6,140.7 574.8,89.9 568.3,42.2 741,42.2 741,547.4 423.8,547.4 423.8,42.2 426.5,42.2Z" fill="#70ff87"/>
<path d="M425.6,45.4 427.6,226.5 429.2,283.7 431.5,331.3 434.5,367.9 438.6,398.1 443.6,420.3 446.5,429.8 450.3,439.4 455.1,448.9 459.2,455.3 464.2,461.6 471.8,469.2 477.1,473.4 485.1,478.5 493.1,482.7 503.8,487 514.4,490.4 527.8,493.8 554.4,498.3 589.1,501.4 623.7,502.1 642.4,501.5 661,499.9 674.4,497.8 685,494.9 693,491.2 698.2,487 700.2,483.9 701.3,480.7 701.4,474.3 699.8,468 695.9,458.4 666.4,404.8 649.2,369.5 633.7,331.3 619.8,290 612.4,264.6 605.8,239.2 592.9,182 580.2,112.1 569.9,42.2 741,42.2 741,547.4 423.8,547.4 423.8,42.2 425.6,42.2 425.6,45.4Z" fill="#77ff80"/>
<path d="M423.9,45.4 423.8,547.4 423.8,42.2 423.9,45.4ZM573.1,42.2 741,42.2 741,464.5 735.7,460.8 719.7,447.4 706.3,434.2 695.7,422.4 684,407.6 672.9,391.7 659.6,369.5 646.8,344 635.8,318.6 625.1,290 616.9,264.6 606.3,226.5 598.6,194.7 589.9,153.4 581.1,104.4 571.6,42.2 573.1,42.2Z" fill="#80ff77"/>
<path d="M575.7,42.2 741,42.2 741,453.9 725,441 709,425.9 695.4,410.8 680.7,391.7 669,374.1 657.3,353.6 646.3,331.3 635.4,305.9 626,280.5 616.7,251.9 606.9,217 598.5,182 588.6,134.3 579.6,83.5 573.3,42.2 575.7,42.2Z" fill="#87ff70"/>
<path d="M575.7,42.2 741,42.2 741,445.1 725,432.1 709,416.7 695.7,401.8 683,385.4 670.3,366.3 659.3,347.2 648.1,325 638.4,302.7 628.6,277.3 620.1,251.9 611.6,223.3 603.3,191.5 595.4,156.6 587.2,115.3 577.5,58.1 575,42.2 575.7,42.2Z" fill="#90ff66"/>
<path d="M578.4,42.2 741,42.2 741,437.5 725,424.1 709,408.5 695.7,393.3 682.4,375.8 669.9,356.8 659.1,337.7 648,315.5 638.4,293.2 628.7,267.8 619.2,239.2 610.9,210.6 602.8,178.8 593.6,137.5 585.1,93 576.7,42.2 578.4,42.2Z" fill="#97ff60"/>
<path d="M581.1,42.2 741,42.2 741,430.5 725,416.9 711.7,403.8 698.4,388.8 685,371.5 673.1,353.6 661.9,334.5 650.6,312.3 640.8,290 630.9,264.6 621.2,236 611.8,204.2 603.7,172.5 593.8,128 584.7,80.3 578.4,42.2 581.1,42.2Z" fill="#a0ff56"/>
<path d="M581.1,42.2 741,42.2 741,424.2 725,410.3 711.7,396.9 698.4,381.7 685,364.1 673.9,347.2 662.8,328.2 651.5,305.9 641.6,283.7 632.9,261.4 623,232.8 614.4,204.2 606.8,175.6 598.5,140.7 590.6,102.6 580,42.2 581.1,42.2Z" fill="#aaff4d"/>
<path d="M583.7,42.2 741,42.2 741,418.2 725,404.1 711.7,390.5 698.4,375 687,359.9 674.4,340.9 663.7,322.4 653.7,302.7 643.6,280.5 633.6,255.1 624.7,229.7 615.1,197.9 606.6,166.1 597.8,128 588.2,80.3 581.6,42.2 583.7,42.2Z" fill="#b1ff46"/>
<path d="M583.7,42.2 741,42.2 741,412.7 725,398.2 711.7,384.4 699,369.5 687.2,353.6 676.7,337.7 665.5,318.6 654.1,296.4 644.1,274.1 635.3,251.9 625.3,223.3 617.5,197.9 609.6,169.3 601.9,137.5 595,105.7 585.9,58.1 583.2,42.2 583.7,42.2Z" fill="#baff3c"/>
<path d="M586.4,42.2 741,42.2 741,407.4 725,392.7 712,379 698.7,363.1 687.7,348.1 676.7,331.3 665.7,312.3 655.7,292.7 645.8,271 635.7,245.6 626.8,220.1 617.9,191.5 610.1,162.9 600.9,124.8 592.9,86.7 584.7,42.2 586.4,42.2Z" fill="#c1ff36"/>
<path d="M586.4,42.2 741,42.2 741,402.4 727.7,390.1 714.1,375.8 701,360.3 689,344 678.6,328.2 667.4,309.1 657.6,290 647.4,267.8 638.4,245.6 630.3,223.3 622.1,197.9 613.8,169.3 606.5,140.7 598.5,105.7 590.8,67.6 586.4,42.2Z" fill="#caff2c"/>
<path d="M589.1,42.2 741,42.2 741,397.6 727.7,385.1 713.1,369.5 701,354.9 688.5,337.7 678.3,321.8 667.3,302.7 657.6,283.7 647.7,261.9 638.6,239.2 629.5,213.8 621.4,188.4 613.3,159.8 604.6,124.8 596.2,86.7 587.7,42.2 589.1,42.2Z" fill="#d1ff26"/>
<path d="M591.7,42.2 741,42.2 741,393 727.7,380.3 714.3,365.9 701.6,350.4 690.1,334.5 679.7,318.5 668.8,299.6 659,280.5 648.9,258.3 638.7,232.8 630.7,210.6 621.6,182 613.5,153.4 603.4,112.1 593.3,64.4 589.2,42.2 591.7,42.2Z" fill="#dbff1c"/>
<path d="M591.7,42.2 741,42.2 741,388.5 727.7,375.6 714.3,361.1 703.1,347.2 690.4,329.7 679.2,312.3 669,294.3 658.8,274.1 650.1,255.1 641.1,232.8 633,210.6 624.6,185.2 616.3,156.6 608.1,124.8 600.1,89.9 590.6,42.2 591.7,42.2Z" fill="#e4ff13"/>
<path d="M594.4,42.2 741,42.2 741,384.3 727.7,371.2 714.3,356.4 701.9,340.9 690.6,325 679.7,307.7 669.7,290 660,271 650.4,249.7 641,226.5 630.8,197.9 622.8,172.5 614.7,143.9 604.5,102.6 595.7,61.3 592,42.2 594.4,42.2Z" fill="#ebff0c"/>
<path d="M594.4,42.2 741,42.2 741,380.1 727.7,366.9 714.3,351.9 703.1,337.7 691.8,321.8 681.7,305.9 670.8,286.9 661.1,267.8 652.4,248.7 643.3,226.5 635.1,204.2 627.7,182 619.1,153.4 611.5,124.8 603.2,89.9 593.4,42.2 594.4,42.2Z" fill="#f4f802"/>
<path d="M597.1,42.2 741,42.2 741,376.1 728.1,363.1 716.8,350.4 704.1,334.5 692.8,318.6 682.4,302.1 671.7,283.4 662.1,264.6 652,242.4 643,220.1 633.8,194.7 625.6,169.3 617.4,140.7 606.9,99.4 598.6,61.3 594.8,42.2 597.1,42.2Z" fill="#fbf100"/>
<path d="M597.1,42.2 741,42.2 741,372.2 727.7,358.6 715,344 703.7,329.5 693,314.3 682.4,297.4 672.8,280.5 663.1,261.4 654.4,242.4 646.4,223.3 638.1,201.1 629.5,175.6 621.8,150.2 614,121.6 606.3,89.9 596.1,42.2 597.1,42.2Z" fill="#ffe600"/>
<path d="M599.7,42.2 741,42.2 741,368.5 727.7,354.7 715.8,340.9 703.7,325.2 693,309.8 682.4,292.7 672,274.1 662.5,255.1 653.9,236 643.6,210.6 635.6,188.4 627.3,162.9 619.9,137.5 610,99.4 601.4,61.3 597.5,42.2 599.7,42.2Z" fill="#ffde00"/>
<path d="M599.7,42.2 741,42.2 741,364.8 727.7,350.8 717,338.4 706.3,324.7 695.4,309.1 685,292.7 674.5,274.1 664.8,255.1 656.1,236 646.9,213.8 638.6,191.5 631.1,169.3 623.4,143.9 616.3,118.5 608.5,86.7 598.8,42.2 599.7,42.2Z" fill="#ffd300"/>
<path d="M602.4,42.2 741,42.2 741,361.2 727.9,347.2 717,334.5 704.9,318.6 694,302.7 684.2,286.9 674.4,269.3 665.6,251.9 656.8,232.8 646.4,207.4 638.2,185.2 629.8,159.8 622.3,134.3 612.2,96.2 603.4,58.1 600.1,42.2 602.4,42.2Z" fill="#ffcc00"/>
<path d="M602.4,42.2 741,42.2 741,357.7 728.3,344 717,330.7 706.3,316.7 695.7,301.2 685,284 675.9,267.8 666.4,248.9 657.5,229.7 649.6,210.6 641.2,188.4 633.6,166.1 625.7,140.7 617.7,112.1 609.8,80.3 601.4,42.2 602.4,42.2Z" fill="#ffc100"/>
<path d="M605.1,42.2 741,42.2 741,354.2 728.6,340.9 717,326.9 706.3,312.8 695.7,297.1 685.4,280.5 676.6,264.6 666.9,245.6 658.2,226.5 649,204.2 640.7,182 632.2,156.6 624.5,131.2 613.5,89.9 602.6,42.2 605.1,42.2Z" fill="#ffb600"/>
<path d="M605.1,42.2 741,42.2 741,350.9 728.9,337.7 718.4,325 708.7,312.3 697.8,296.4 687.9,280.5 678.8,264.6 669.1,245.6 660.2,226.5 652.1,207.4 643.6,185.2 635.9,162.9 627.9,137.5 619.8,108.9 611.8,77.2 603.9,42.2 605.1,42.2Z" fill="#ffae00"/>
<path d="M607.7,42.2 741,42.2 741,347.6 729.1,334.5 717,319.7 706.3,305.3 696.1,290 686.5,274.1 677,257.1 668.1,239.2 659.4,220.1 650.2,197.9 641.9,175.6 633.4,150.2 625.7,124.8 614.7,83.5 605.1,42.2 607.7,42.2Z" fill="#ffa300"/>
<path d="M607.7,42.2 741,42.2 741,344.3 730.3,332.5 718.9,318.6 709,305.4 698.4,289.7 687.7,272.3 678.1,255.1 661.3,220.1 652,197.9 644.8,178.8 630,134.3 621.8,105.7 613.7,74 606.3,42.2 607.7,42.2Z" fill="#ff9c00"/>
<path d="M607.7,42.2 741,42.2 741,341.2 730.3,329.3 719.1,315.5 709,301.8 698.9,286.9 689.1,271 680.3,255.1 663.2,220.1 655,201.1 646.4,178.8 632.5,137.5 619,89.9 607.7,42.2Z" fill="#ff9100"/>
<path d="M610.4,42.2 741,42.2 741,338.1 730.3,326 719.2,312.3 709,298.4 698.4,282.4 689.5,267.8 679,248.7 662.2,213.8 654.2,194.7 645.8,172.5 631,128 622,96.2 613.9,64.4 608.7,42.2 610.4,42.2Z" fill="#ff8900"/>
<path d="M610.4,42.2 741,42.2 741,335 730.3,322.9 719.3,309.1 709,294.9 699.4,280.5 689.8,264.6 681,248.7 665.4,217 649.7,178.8 635.4,137.5 620.8,86.7 612.1,51.7 609.9,42.2 610.4,42.2Z" fill="#ff7e00"/>
<path d="M613.1,42.2 741,42.2 741,332 730.3,319.8 719.7,306.3 709,291.6 699.6,277.3 690,261.4 681.3,245.6 664.4,210.6 649,172.5 641.1,150.2 632.9,124.8 622.9,89.9 614.8,58.1 611.1,42.2 613.1,42.2Z" fill="#ff7700"/>
<path d="M613.1,42.2 741,42.2 741,329.1 730.3,316.7 719.7,303.1 701,276.1 683.2,245.6 666.1,210.6 650.5,172.5 636.3,131.2 621.6,80.3 612.3,42.2 613.1,42.2Z" fill="#ff6c00"/>
<path d="M615.7,42.2 741,42.2 741,326.2 730.3,313.7 719.7,300 710.3,286.9 699.9,271 681.8,239.2 665,204.2 657,185.2 648.5,162.9 633.7,118.5 622.9,80.3 613.4,42.2 615.7,42.2Z" fill="#ff6000"/>
<path d="M615.7,42.2 741,42.2 741,323.3 730.3,310.7 719.7,296.9 701,269.5 683.6,239.2 666.7,204.2 651.2,166.1 636.1,121.6 627.6,93 620,64.4 614.5,42.2 615.7,42.2Z" fill="#ff5900"/>
<path d="M615.7,42.2 741,42.2 741,320.5 721.5,296.4 711.7,282.6 702,267.8 683.8,236 668.4,204.2 653.9,169.3 640.5,131.2 628,89.9 615.7,42.2Z" fill="#ff4e00"/>
<path d="M618.4,42.2 741,42.2 741,317.7 721.4,293.2 702,264.6 683.9,232.8 668.6,201.1 653,162.9 638.7,121.6 630.1,93 621.5,61.3 616.8,42.2 618.4,42.2Z" fill="#ff4700"/>
<path d="M618.4,42.2 741,42.2 741,315 721.2,290 702,261.4 685.7,232.8 670.2,201.1 654.5,162.9 641.1,124.8 627.7,80.3 617.9,42.2 618.4,42.2Z" fill="#ff3b00"/>
<path d="M621.1,42.2 741,42.2 741,312.3 721,286.9 703.7,261 685.8,229.7 670.4,197.9 654.7,159.8 639.3,115.3 628.1,77.2 619,42.2 621.1,42.2Z" fill="#ff3400"/>
<path d="M621.1,42.2 741,42.2 741,309.6 722.3,285.9 703.7,258 685.8,226.5 670.5,194.7 654.9,156.6 641.6,118.5 627.5,70.8 620.1,42.2 621.1,42.2Z" fill="#ff2900"/>
<path d="M623.7,42.2 741,42.2 741,307 722.3,283.1 703.7,255 685.9,223.3 670.6,191.5 655.1,153.4 639.8,108.9 630.4,77.2 621.2,42.2 623.7,42.2Z" fill="#ff1e00"/>
<path d="M623.7,42.2 741,42.2 741,304.4 722.3,280.3 703.7,252 687.5,223.3 672.2,191.5 656.5,153.4 643.1,115.3 635.2,89.9 627.2,61.3 622.2,42.2 623.7,42.2Z" fill="#ff1600"/>
<path d="M623.7,42.2 741,42.2 741,301.8 722.3,277.5 705.4,251.9 689.2,223.3 673.6,191.5 659,156.6 646.4,121.6 632.7,77.2 623.3,42.2 623.7,42.2Z" fill="#f60b00"/>
<path d="M626.4,42.2 741,42.2 741,299.3 721.9,274.1 703.7,246.2 687.4,217 672.3,185.2 656.7,147.1 643.5,108.9 633.8,77.2 624.3,42.2 626.4,42.2Z" fill="#ed0400"/>
<path d="M626.4,42.2 741,42.2 741,296.8 722.3,272.2 705,245.6 689,217 675.1,188.4 660.5,153.4 646.8,115.3 632.2,67.6 625.4,42.2 626.4,42.2Z" fill="#df0000"/>
<path d="M629,42.2 741,42.2 741,294.3 722.3,269.5 704.8,242.4 688.9,213.8 673.7,182 658.1,143.9 643.8,102.6 635.1,74 626.4,42.2 629,42.2Z" fill="#d60000"/>
<path d="M629,42.2 741,42.2 741,291.9 723,267.8 706.3,242.1 690.4,213.5 675.1,182 660.6,147.1 647,108.9 636.2,74 627.4,42.2 629,42.2Z" fill="#c80000"/>
<path d="M629,42.2 741,42.2 741,289.4 722.6,264.6 706.3,239.4 692,213.8 676.5,182 661.9,147.1 649.3,112.1 636.3,70.8 628.4,42.2 629,42.2Z" fill="#bf0000"/>
<path d="M631.7,42.2 741,42.2 741,287 722.3,261.7 706.3,236.7 691.8,210.6 676.5,178.8 661.9,143.9 647.3,102.6 638.3,74 629.4,42.2 631.7,42.2Z" fill="#b20000"/>
<path d="M631.7,42.2 741,42.2 741,284.7 723.9,261.4 707.6,236 691.7,207.4 677.8,178.8 663.2,143.9 649.4,105.7 633.9,54.9 630.4,42.2 631.7,42.2Z" fill="#a40000"/>
<path d="M631.7,42.2 741,42.2 741,282.3 723.4,258.3 707.2,232.8 693,207.2 679.2,178.8 665.7,147.1 653.8,115.3 641.4,77.2 631.7,42.2Z" fill="#9b0000"/>
<path d="M634.4,42.2 741,42.2 741,280 722.9,255.1 706.9,229.7 691.3,201.1 677.7,172.5 663.2,137.5 649.6,99.4 640.6,70.8 632.4,42.2 634.4,42.2Z" fill="#8d0000"/>
<path d="M634.4,42.2 741,42.2 741,277.7 724.6,255.1 708.5,229.7 694.3,204.2 679.7,174.1 665.6,140.7 652.8,105.7 638.8,61.3 633.4,42.2 634.4,42.2Z" fill="#840000"/>
</g>
</g>
<clipPath id="axB"><rect x="426.9" y="43" width="298.1" height="508.9"/></clipPath>
<g stroke-linejoin="round" clip-path="url(#axB)"><polyline points="574.6,63.4 576.1,73.3 577.6,83.3 579.2,93.3 580.9,103.2 582.6,113.2 584.3,123.2 586.1,133.2 588,143.1 589.9,153.1 591.9,163.1 593.9,173 596.1,183 598.3,193 600.6,203 603,212.9 605.4,222.9 608,232.9 610.7,242.8 613.6,252.8 616.5,262.8 619.6,272.8 622.8,282.7 626.2,292.7 629.8,302.7 633.6,312.6 637.6,322.6 641.8,332.6 646.3,342.6 651.1,352.5 656.1,362.5 661.6,372.5 667.4,382.4 673.7,392.4 680.5,402.4 688,412.4 696.1,422.3 705,432.3 714.9,442.3 725.9,452.2" fill="none" stroke="#fff" stroke-width="15.2" /><polyline points="574.6,63.4 576.1,73.3 577.6,83.3 579.2,93.3 580.9,103.2 582.6,113.2 584.3,123.2 586.1,133.2 588,143.1 589.9,153.1 591.9,163.1 593.9,173 596.1,183 598.3,193 600.6,203 603,212.9 605.4,222.9 608,232.9 610.7,242.8 613.6,252.8 616.5,262.8 619.6,272.8 622.8,282.7 626.2,292.7 629.8,302.7 633.6,312.6 637.6,322.6 641.8,332.6 646.3,342.6 651.1,352.5 656.1,362.5 661.6,372.5 667.4,382.4 673.7,392.4 680.5,402.4 688,412.4 696.1,422.3 705,432.3 714.9,442.3 725.9,452.2" fill="none" stroke="#ffa500" stroke-width="5.2" /></g>
<rect x="95.7" y="43" width="310.3" height="508.9" fill="none" stroke="#000" stroke-width="2"/>
<path d="M118.5,551.9v9.3M144.6,551.9v9.3M170.8,551.9v9.3M196.9,551.9v9.3M223.1,551.9v9.3M249.2,551.9v9.3M275.3,551.9v9.3M301.5,551.9v9.3M327.6,551.9v9.3M353.7,551.9v9.3M379.9,551.9v9.3M406,551.9v9.3" stroke="#000" stroke-width="2" fill="none"/>
<path d="M95.7,551.9h-9.3M95.7,424.7h-9.3M95.7,297.4h-9.3M95.7,170.2h-9.3M95.7,43h-9.3" stroke="#000" stroke-width="2" fill="none"/>
<text x="223.1" y="594.2" font-size="31.8" text-anchor="middle" >50</text>
<text x="353.7" y="594.2" font-size="31.8" text-anchor="middle" >100</text>
<text x="250.8" y="640.4" font-size="39.6" text-anchor="middle"><tspan font-style="italic">f</tspan><tspan font-size="27.3" dy="6.5">RR</tspan><tspan dy="-6.5"> (Hz)</tspan></text>
<rect x="426.9" y="43" width="298.1" height="508.9" fill="none" stroke="#000" stroke-width="2"/>
<path d="M449,551.9v9.3M474.1,551.9v9.3M499.2,551.9v9.3M524.3,551.9v9.3M549.3,551.9v9.3M574.4,551.9v9.3M599.5,551.9v9.3M624.6,551.9v9.3M649.7,551.9v9.3M674.7,551.9v9.3M699.8,551.9v9.3M724.9,551.9v9.3" stroke="#000" stroke-width="2" fill="none"/>
<path d="M426.9,551.9h-9.3M426.9,424.7h-9.3M426.9,297.4h-9.3M426.9,170.2h-9.3M426.9,43h-9.3" stroke="#000" stroke-width="2" fill="none"/>
<text x="549.3" y="594.2" font-size="31.8" text-anchor="middle" >50</text>
<text x="674.7" y="594.2" font-size="31.8" text-anchor="middle" >100</text>
<text x="576" y="640.4" font-size="39.6" text-anchor="middle"><tspan font-style="italic">f</tspan><tspan font-size="27.3" dy="6.5">RR</tspan><tspan dy="-6.5"> (Hz)</tspan></text>
<text x="76.3" y="54" font-size="31.8" text-anchor="end" >1</text>
<text x="76.3" y="563.4" font-size="31.8" text-anchor="end" >0</text>
<text transform="translate(48.5,298.2) rotate(-90)" font-size="39.6" text-anchor="middle" ><tspan font-style="italic">L</tspan>/<tspan font-style="italic">M</tspan></text>
<text transform="translate(112,498) scale(1.3,1)" font-size="34" style="font-family:'DejaVu Math TeX Gyre','DejaVu Serif',serif">&#x1D43D;</text><text x="149" y="500" font-size="39.6"><tspan font-size="27.6" dy="-14.6">intra</tspan><tspan dy="14.6"> (Hz)</tspan></text>
<text transform="translate(441.5,498) scale(1.3,1)" font-size="34" style="font-family:'DejaVu Math TeX Gyre','DejaVu Serif',serif">&#x1D43D;</text><text x="478.5" y="500" font-size="39.6"><tspan font-size="27.6" dy="-14.6">inter</tspan><tspan dy="14.6"> (Hz)</tspan></text>
<linearGradient id="gJet" x1="0" y1="0" x2="0" y2="1"><stop offset="0%" stop-color="#800000"/><stop offset="3.1%" stop-color="#9f0000"/><stop offset="6.2%" stop-color="#c40000"/><stop offset="9.4%" stop-color="#e80000"/><stop offset="12.5%" stop-color="#ff1e00"/><stop offset="15.6%" stop-color="#ff3b00"/><stop offset="18.8%" stop-color="#ff5900"/><stop offset="21.9%" stop-color="#ff7700"/><stop offset="25%" stop-color="#ff9400"/><stop offset="28.1%" stop-color="#ffb200"/><stop offset="31.2%" stop-color="#ffd000"/><stop offset="34.4%" stop-color="#feed00"/><stop offset="37.5%" stop-color="#e4ff13"/><stop offset="40.6%" stop-color="#caff2c"/><stop offset="43.8%" stop-color="#b1ff46"/><stop offset="46.9%" stop-color="#97ff60"/><stop offset="50%" stop-color="#7dff7a"/><stop offset="53.1%" stop-color="#63ff94"/><stop offset="56.2%" stop-color="#49ffad"/><stop offset="59.4%" stop-color="#30ffc7"/><stop offset="62.5%" stop-color="#16ffe1"/><stop offset="65.6%" stop-color="#00e0fb"/><stop offset="68.8%" stop-color="#00c0ff"/><stop offset="71.9%" stop-color="#00a0ff"/><stop offset="75%" stop-color="#0080ff"/><stop offset="78.1%" stop-color="#0060ff"/><stop offset="81.2%" stop-color="#0040ff"/><stop offset="84.4%" stop-color="#0020ff"/><stop offset="87.5%" stop-color="#0000ff"/><stop offset="90.6%" stop-color="#0000ed"/><stop offset="93.8%" stop-color="#0000c8"/><stop offset="96.9%" stop-color="#0000a4"/><stop offset="100%" stop-color="#000080"/></linearGradient><rect x="743.5" y="43" width="25.5" height="508.9" fill="url(#gJet)" stroke="#000" stroke-width="2"/>
<path d="M769,551.9h9.3M769,424.7h9.3M769,297.4h9.3M769,170.2h9.3M769,43h9.3" stroke="#000" stroke-width="2" fill="none"/>
<text x="793.4" y="54.7" font-size="31.8">&#8805;<tspan x="826.5">0.2</tspan></text>
<text x="788" y="309.1" font-size="31.8" >0.0</text>
<text x="788" y="563.6" font-size="31.8" >&#8722;0.2</text>
<clipPath id="clC"><rect x="1027" y="43.2" width="414.7" height="169.3"/></clipPath>
<g clip-path="url(#clC)">
<path d="M1250.9,214.5V140.5H1251.8V142.4H1252.6V143.6H1253.4V144H1254.3V144H1255.1V144.8H1255.9V143.5H1256.7V142.9H1257.6V145.9H1258.4V147.5H1259.2V147.4H1260.1V146.5H1260.9V147.9H1261.7V147.8H1262.5V148.3H1263.4V147.9H1264.2V149.6H1265V149.1H1265.9V149.8H1266.7V150.3H1267.5V151.5H1268.4V148.8H1269.2V150.8H1270V151.1H1270.8V153.7H1271.7V151.4H1272.5V149.8H1273.3V150.1H1274.2V150.8H1275V155H1275.8V151.2H1276.6V151.1H1277.5V154.3H1278.3V153.5H1279.1V153.8H1280V155.9H1280.8V154.1H1281.6V152.1H1282.5V155.6H1283.3V153H1284.1V155.1H1284.9V156H1285.8V158.9H1286.6V156.7H1287.4V157.2H1288.3V155.9H1289.1V162.8H1289.9V160H1290.7V160.3H1291.6V158.5H1292.4V158.3H1293.2V161.2H1294.1V158.6H1294.9V162.6H1295.7V158.7H1296.6V160.9H1297.4V160.4H1298.2V161.3H1299V162.9H1299.9V161.2H1300.7V161.3H1301.5V162.3H1302.4V164.7H1303.2V163.1H1304V163.8H1304.8V164H1305.7V166.1H1306.5V166.6H1307.3V165.8H1308.2V162.2H1309V165.1H1309.8V167.5H1310.7V167.9H1311.5V170.5H1312.3V167.3H1313.1V165.4H1314V167.4H1314.8V168.9H1315.6V170.7H1316.5V167H1317.3V169.6H1318.1V169H1318.9V171.8H1319.8V170.7H1320.6V172.6H1321.4V171.1H1322.3V165.8H1323.1V172.1H1323.9V174.6H1324.8V171.8H1325.6V173.9H1326.4V174.5H1327.2V176.4H1328.1V174.3H1328.9V170.3H1329.7V173H1330.6V179.7H1331.4V177.6H1332.2V174.1H1333V177.3H1333.9V176.6H1334.7V176.1H1335.5V172.1H1336.4V174.4H1337.2V178.5H1338V177.6H1338.9V178.4H1339.7V177.5H1340.5V176.1H1341.3V179.6H1342.2V181.2H1343V175H1343.8V181.3H1344.7V180H1345.5V180H1346.3V182H1347.1V183.5H1348V177.6H1348.8V189.8H1349.6V182.7H1350.5V180H1351.3V181.6H1352.1V175.7H1353V183.4H1353.8V184H1354.6V188.5H1355.4V185.7H1356.3V178.2H1357.1V182.5H1357.9V180.5H1358.8V183.2H1359.6V186.3H1360.4V188.9H1361.2V186.6H1362.1V189.8H1362.9V190.2H1363.7V188.6H1364.6V184.6H1365.4V188H1366.2V184.2H1367.1V189.4H1367.9V194H1368.7V187H1369.5V193.7H1370.4V185.7H1371.2V189.8H1372V188.8H1372.9V198.6H1373.7V191.5H1374.5V193H1375.3V191H1376.2V196.5H1377V194.6H1377.8V194.3H1378.7V193.5H1379.5V190.3H1380.3V188.2H1381.2V200H1382V214.5H1382.8V200H1383.6V194.7H1384.5V201H1385.3V193.3H1386.1V201.7H1387V203.3H1387.8V195.8H1388.6V198.8H1389.4V197.4H1390.3V198.3H1391.1V197.8H1391.9V200.6H1392.8V209.6H1393.6V200.7H1394.4V207.1H1395.3V197.7H1396.1V197.7H1396.9V203.4H1397.7V198.4H1398.6V202.3H1399.4V199.6H1400.2V202.1H1401.1V194.9H1401.9V205H1402.7V206.4H1403.5V204.3H1404.4V214.5H1405.2V201.4H1406V198.3H1406.9V200H1407.7V213.5H1408.5V205.4H1409.4V207.3H1410.2V214.5H1411V210.1H1411.8V200.1H1412.7V207.4H1413.5V210.2H1414.3V211H1415.2V203.5H1416V210.9H1416.8V208.8H1417.6V211.1H1418.5V214.5H1419.3V212.8H1420.1V206.3H1421V210.3H1421.8V210.6H1422.6V206.7H1423.5V214.5H1424.3V214.5H1425.1V214.5H1425.9V214.5H1426.8V214.5H1427.6V214.5H1428.4V214.5H1429.3V214.5H1430.1V203.6H1430.9V211.9H1431.7V214.5H1432.6V214.5H1433.4V209.3H1434.2V214.5H1435.1V206.2H1435.9V214.5H1436.7V214.5H1437.6V214.5H1438.4V214.3H1439.2V211.7H1440V214.5H1440.9V214.5H1441.7V214.5Z" fill="#0000ff"/>
<line x1="1234.9" y1="212.5" x2="1234.9" y2="58.1" stroke="#0000ff" stroke-width="1.6" />
<line x1="1217.1" y1="212.5" x2="1217.1" y2="202.3" stroke="#0000ff" stroke-width="1.4" />
<line x1="1218.6" y1="212.5" x2="1218.6" y2="205.4" stroke="#0000ff" stroke-width="1.4" />
</g>
<clipPath id="clD"><rect x="1544.9" y="43.2" width="414.4" height="169.3"/></clipPath>
<g clip-path="url(#clD)">
<path d="M1768.7,214.5V144.7H1769.5V143.2H1770.3V144.1H1771.2V142.5H1772V142.7H1772.8V142.9H1773.6V144.6H1774.5V150.4H1775.3V145.7H1776.1V146.2H1777V143.4H1777.8V146.1H1778.6V147.7H1779.5V146.2H1780.3V147.8H1781.1V149.1H1781.9V148.1H1782.8V147.7H1783.6V146.9H1784.4V150.3H1785.3V152.3H1786.1V149.3H1786.9V150.7H1787.7V152.3H1788.6V151.9H1789.4V151H1790.2V149.2H1791.1V150.4H1791.9V153.2H1792.7V153.5H1793.5V152.2H1794.4V152.2H1795.2V155.3H1796V153.8H1796.9V153.2H1797.7V153.3H1798.5V153.3H1799.3V153.2H1800.2V153.6H1801V157.4H1801.8V157.7H1802.7V154.3H1803.5V155.4H1804.3V160.1H1805.1V154.5H1806V159.1H1806.8V157.4H1807.6V157H1808.5V159.2H1809.3V160.2H1810.1V160.8H1810.9V158.2H1811.8V159.4H1812.6V162.2H1813.4V160.3H1814.3V161.1H1815.1V164.5H1815.9V164.7H1816.7V158.3H1817.6V160.5H1818.4V161.9H1819.2V164.2H1820.1V161.4H1820.9V163.5H1821.7V164.7H1822.5V166H1823.4V161H1824.2V167.1H1825V167.4H1825.9V166H1826.7V164.5H1827.5V169.4H1828.3V168.5H1829.2V168.1H1830V167.9H1830.8V170.3H1831.7V169.1H1832.5V167.9H1833.3V173.4H1834.2V168.9H1835V168H1835.8V169.6H1836.6V172.6H1837.5V169.4H1838.3V172.7H1839.1V171H1840V169.4H1840.8V169H1841.6V174.7H1842.4V172.1H1843.3V172.8H1844.1V172.5H1844.9V172.4H1845.8V176.6H1846.6V170.8H1847.4V166.9H1848.2V172.6H1849.1V178.5H1849.9V171.8H1850.7V172.5H1851.6V172.3H1852.4V176H1853.2V176.7H1854V175.9H1854.9V181.9H1855.7V176.9H1856.5V178H1857.4V181.1H1858.2V179H1859V180.8H1859.8V178.7H1860.7V177.7H1861.5V179.8H1862.3V185.7H1863.2V178.5H1864V181.1H1864.8V182.3H1865.6V183.3H1866.5V194.8H1867.3V185.7H1868.1V182.1H1869V183.9H1869.8V186.4H1870.6V185.8H1871.4V182.8H1872.3V179.9H1873.1V185.6H1873.9V187.3H1874.8V183.5H1875.6V190.8H1876.4V183.5H1877.2V188.1H1878.1V189.6H1878.9V184.4H1879.7V191.7H1880.6V185.7H1881.4V186.1H1882.2V187.4H1883.1V194.9H1883.9V188.1H1884.7V187.1H1885.5V178H1886.4V190H1887.2V185.6H1888V193.5H1888.9V199.2H1889.7V191.2H1890.5V192.3H1891.3V192.7H1892.2V200.3H1893V194.7H1893.8V200.2H1894.7V196H1895.5V196.6H1896.3V196.7H1897.1V198.1H1898V200.8H1898.8V196H1899.6V192.6H1900.5V195.6H1901.3V196.4H1902.1V193H1902.9V196.8H1903.8V197.9H1904.6V196H1905.4V197.6H1906.3V197.1H1907.1V193.7H1907.9V198.1H1908.7V200.5H1909.6V203.9H1910.4V202.4H1911.2V204.7H1912.1V205.8H1912.9V201.8H1913.7V199.1H1914.5V203.4H1915.4V201.7H1916.2V201.8H1917V211.5H1917.9V209.4H1918.7V205.6H1919.5V199.2H1920.3V196.8H1921.2V208.7H1922V209.6H1922.8V208.1H1923.7V201.8H1924.5V211.1H1925.3V202.8H1926.1V212.9H1927V206.4H1927.8V211.3H1928.6V204.6H1929.5V205.4H1930.3V206.8H1931.1V208H1931.9V209.6H1932.8V211.4H1933.6V198H1934.4V208.7H1935.3V210.5H1936.1V212.2H1936.9V208.2H1937.8V214.5H1938.6V209.9H1939.4V211.2H1940.2V211.1H1941.1V214.5H1941.9V214.5H1942.7V214.5H1943.6V214.5H1944.4V208.7H1945.2V212H1946V214.5H1946.9V214.5H1947.7V214.5H1948.5V206.6H1949.4V214.5H1950.2V214.5H1951V209.2H1951.8V212.6H1952.7V214.5H1953.5V214.5H1954.3V214.5H1955.2V212.1H1956V214.5H1956.8V214.5H1957.6V214.5H1958.5V214.5H1959.3V214.5Z" fill="#ffa500"/>
<path d="M1735.5,214.5V156.9H1734.7V154.3H1733.9V157.3H1733V156.1H1732.2V157H1731.4V159.6H1730.6V159.2H1729.7V159H1728.9V158.7H1728.1V159H1727.2V158.4H1726.4V158.2H1725.6V160.5H1724.7V163H1723.9V161H1723.1V159.4H1722.3V159.8H1721.4V161.3H1720.6V163.9H1719.8V161.2H1718.9V161.3H1718.1V165.3H1717.3V162.7H1716.5V161.8H1715.6V163.2H1714.8V162.9H1714V163.5H1713.1V164.9H1712.3V166.5H1711.5V165.1H1710.7V164.5H1709.8V165.6H1709V166.6H1708.2V167.9H1707.3V167.4H1706.5V166.2H1705.7V166.9H1704.9V168.4H1704V166.5H1703.2V168.7H1702.4V167.7H1701.5V168.5H1700.7V171.1H1699.9V169.6H1699.1V168.8H1698.2V171.3H1697.4V174.3H1696.6V171.5H1695.7V174.5H1694.9V171.8H1694.1V170.4H1693.3V173.2H1692.4V175.5H1691.6V171.9H1690.8V176.5H1689.9V172.1H1689.1V175.8H1688.3V172.9H1687.5V174.9H1686.6V176.4H1685.8V177.8H1685V176.7H1684.1V175H1683.3V181.3H1682.5V178.9H1681.7V176.8H1680.8V177.9H1680V179.7H1679.2V180.7H1678.3V182.9H1677.5V183.3H1676.7V180.9H1675.9V181.5H1675V181.6H1674.2V183.4H1673.4V182.9H1672.5V183.5H1671.7V183H1670.9V188H1670V180.6H1669.2V183.5H1668.4V188.1H1667.6V183.6H1666.7V183.4H1665.9V186.8H1665.1V186.7H1664.2V186.2H1663.4V185.8H1662.6V186.8H1661.8V184.7H1660.9V192.1H1660.1V192.3H1659.3V183.7H1658.4V188.2H1657.6V187.8H1656.8V190.5H1656V191.1H1655.1V190.3H1654.3V191H1653.5V189.9H1652.6V202.8H1651.8V190.7H1651V196.8H1650.2V191.3H1649.3V199.6H1648.5V190.4H1647.7V190.9H1646.8V191.1H1646V193.3H1645.2V196.7H1644.4V196.9H1643.5V193.3H1642.7V196.5H1641.9V197H1641V214.5H1640.2V196.5H1639.4V192.7H1638.6V196.4H1637.7V194.9H1636.9V195.4H1636.1V198.6H1635.2V194.2H1634.4V202H1633.6V196.8H1632.8V203.7H1631.9V193.2H1631.1V203H1630.3V196.2H1629.4V200.1H1628.6V208.3H1627.8V205.4H1627V199.5H1626.1V207.5H1625.3V199.4H1624.5V205.2H1623.6V207.2H1622.8V206H1622V204.8H1621.1V201.8H1620.3V198.3H1619.5V204.1H1618.7V207.3H1617.8V209.4H1617V212.1H1616.2V212.2H1615.3V211.3H1614.5V207.1H1613.7V214.5H1612.9V206H1612V206.6H1611.2V211.6H1610.4V208.5H1609.5V212.7H1608.7V210H1607.9V213.4H1607.1V210.6H1606.2V209.7H1605.4V207.3H1604.6V214.5H1603.7V212.4H1602.9V211.2H1602.1V214.5H1601.3V211.9H1600.4V210.5H1599.6V214.5H1598.8V214.2H1597.9V210.4H1597.1V214.5H1596.3V214.5H1595.5V214.5H1594.6V214.5H1593.8V214.5H1593V213.2H1592.1V214.5H1591.3V210.2H1590.5V214.5H1589.7V214.5H1588.8V214.5H1588V214.5H1587.2V214.5H1586.3V214.5H1585.5V214.5H1584.7V214.5H1583.9V214.5H1583V214.5H1582.2V214.5H1581.4V214.5H1580.5V214.5H1579.7V214.5H1578.9V214.5H1578.1V214.5H1577.2V214.5H1576.4V214.5H1575.6V214.5H1574.7V214.5H1573.9V214.5H1573.1V214.5H1572.3V214.5H1571.4V214.5H1570.6V214.5H1569.8V214.5H1568.9V214.5H1568.1V214.5H1567.3V214.5H1566.4V214.5H1565.6V214.5H1564.8V212.4H1564V214.5H1563.1V214.5H1562.3V214.5H1561.5V214.5H1560.6V214.5H1559.8V214.5H1559V214.5H1558.2V214.5H1557.3V214.5H1556.5V214.5H1555.7V214.5H1554.8V214.5H1554V214.5H1553.2V214.5H1552.4V214.5H1551.5V214.5H1550.7V214.5H1549.9V214.5H1549V214.5H1548.2V214.5H1547.4V214.5H1546.6V214.5H1545.7V214.5H1544.9V214.5Z" fill="#ffa500"/>
<line x1="1752.6" y1="212.5" x2="1752.6" y2="77" stroke="#ffa500" stroke-width="1.6" />
</g>
<g clip-path="url(#clC)"><line x1="1234.6" y1="58.1" x2="1234.6" y2="222.5" stroke="#000" stroke-width="8.2" stroke-dasharray="8.2 12.7"/><path d="M1230.5,58.3a4.1,4.1 0 0 1 8.2,0z" fill="#000"/><line x1="1250.9" y1="141.5" x2="1250.9" y2="222.5" stroke="#000" stroke-width="8.2" stroke-dasharray="8.2 12.7"/><path d="M1246.8,141.7a4.1,4.1 0 0 1 8.2,0z" fill="#000"/><polyline points="1250.9,141.5 1431.3,215" fill="none" stroke="#000" stroke-width="8.2" stroke-dasharray="8.2 12.7" stroke-dashoffset="-16.8"/></g>
<g clip-path="url(#clD)"><line x1="1752.4" y1="77" x2="1752.4" y2="222.5" stroke="#000" stroke-width="8.8" stroke-dasharray="13.2 7.6" stroke-dashoffset="6.5"/><path d="M1748,77.2a4.4,4.4 0 0 1 8.8,0z" fill="#000"/><line x1="1768.7" y1="141.5" x2="1768.7" y2="222.5" stroke="#000" stroke-width="8.2" stroke-dasharray="8.2 12.7"/><path d="M1764.6,141.7a4.1,4.1 0 0 1 8.2,0z" fill="#000"/><polyline points="1768.7,141.5 1948.9,215" fill="none" stroke="#000" stroke-width="8.2" stroke-dasharray="8.2 12.7" stroke-dashoffset="-16.8"/><line x1="1735.5" y1="154.4" x2="1735.5" y2="222.5" stroke="#000" stroke-width="8.2" stroke-dasharray="8.2 12.7"/><path d="M1731.4,154.6a4.1,4.1 0 0 1 8.2,0z" fill="#000"/><polyline points="1735.5,154.4 1586.3,218.8" fill="none" stroke="#000" stroke-width="8.2" stroke-dasharray="8.2 12.7" stroke-dashoffset="-16.8"/></g>
<rect x="1027" y="43.2" width="414.7" height="169.3" fill="none" stroke="#000" stroke-width="2"/>
<path d="M1027,212.5v9.3M1078.8,212.5v9.3M1130.7,212.5v9.3M1234.3,212.5v9.3M1286.2,212.5v9.3M1338,212.5v9.3M1389.9,212.5v9.3M1441.7,212.5v9.3" stroke="#000" stroke-width="2" fill="none"/>
<path d="M1027,58.1h-9.3M1027,109.6h-9.3M1027,161.1h-9.3M1027,212.6h-9.3" stroke="#000" stroke-width="2" fill="none"/>
<path d="M1027,197.1h-4.6M1027,188h-4.6M1027,181.6h-4.6M1027,176.6h-4.6M1027,172.5h-4.6M1027,169.1h-4.6M1027,166.1h-4.6M1027,163.5h-4.6M1027,145.6h-4.6M1027,136.5h-4.6M1027,130.1h-4.6M1027,125.1h-4.6M1027,121h-4.6M1027,117.6h-4.6M1027,114.6h-4.6M1027,112h-4.6M1027,94.1h-4.6M1027,85h-4.6M1027,78.6h-4.6M1027,73.6h-4.6M1027,69.5h-4.6M1027,66.1h-4.6M1027,63.1h-4.6M1027,60.5h-4.6" stroke="#000" stroke-width="1.6" fill="none"/>
<text x="1027" y="254.5" font-size="31.8" text-anchor="middle" >&#8722;100</text>
<text x="1234.3" y="254.5" font-size="31.8" text-anchor="middle" >0</text>
<text x="1441.7" y="254.5" font-size="31.8" text-anchor="middle" >100</text>
<text x="1233.3" y="301" font-size="39.6" text-anchor="middle"><tspan font-style="italic">t</tspan><tspan font-size="27.6" dy="6.5">post</tspan><tspan dy="-6.5" dx="7.8">&#8722;</tspan><tspan font-style="italic" dx="6.5">t</tspan><tspan font-size="27.6" dy="6.5">pre</tspan><tspan dy="-6.5"> (ms)</tspan></text>
<rect x="1544.9" y="43.2" width="414.4" height="169.3" fill="none" stroke="#000" stroke-width="2"/>
<path d="M1544.9,212.5v9.3M1596.7,212.5v9.3M1648.5,212.5v9.3M1752.1,212.5v9.3M1803.9,212.5v9.3M1855.7,212.5v9.3M1907.5,212.5v9.3M1959.3,212.5v9.3" stroke="#000" stroke-width="2" fill="none"/>
<path d="M1544.9,58.1h-9.3M1544.9,109.6h-9.3M1544.9,161.1h-9.3M1544.9,212.6h-9.3" stroke="#000" stroke-width="2" fill="none"/>
<path d="M1544.9,197.1h-4.6M1544.9,188h-4.6M1544.9,181.6h-4.6M1544.9,176.6h-4.6M1544.9,172.5h-4.6M1544.9,169.1h-4.6M1544.9,166.1h-4.6M1544.9,163.5h-4.6M1544.9,145.6h-4.6M1544.9,136.5h-4.6M1544.9,130.1h-4.6M1544.9,125.1h-4.6M1544.9,121h-4.6M1544.9,117.6h-4.6M1544.9,114.6h-4.6M1544.9,112h-4.6M1544.9,94.1h-4.6M1544.9,85h-4.6M1544.9,78.6h-4.6M1544.9,73.6h-4.6M1544.9,69.5h-4.6M1544.9,66.1h-4.6M1544.9,63.1h-4.6M1544.9,60.5h-4.6" stroke="#000" stroke-width="1.6" fill="none"/>
<text x="1544.9" y="254.5" font-size="31.8" text-anchor="middle" >&#8722;100</text>
<text x="1752.1" y="254.5" font-size="31.8" text-anchor="middle" >0</text>
<text x="1959.3" y="254.5" font-size="31.8" text-anchor="middle" >100</text>
<text x="1751.1" y="301" font-size="39.6" text-anchor="middle"><tspan font-style="italic">t</tspan><tspan font-size="27.6" dy="6.5">post</tspan><tspan dy="-6.5" dx="7.8">&#8722;</tspan><tspan font-style="italic" dx="6.5">t</tspan><tspan font-size="27.6" dy="6.5">pre</tspan><tspan dy="-6.5"> (ms)</tspan></text>
<text x="1408.5" y="85.5" font-size="39.6" text-anchor="end" fill="#0000ff" >intra</text>
<text x="1926.5" y="85" font-size="39.6" text-anchor="end" fill="#ffa500" >inter</text>
<text x="1006.2" y="71" font-size="31.8" text-anchor="end">10<tspan font-size="22.4" dy="-11.5">0</tspan></text>
<text x="1006.2" y="225" font-size="31.8" text-anchor="end">10<tspan font-size="22.4" dy="-11.5">&#8722;3</tspan></text>
<text transform="translate(927.7,128) rotate(-90)" font-size="39.6" text-anchor="middle"><tspan font-style="italic">G</tspan>(<tspan font-style="italic">t</tspan>) (ms<tspan font-size="27.3" dy="-14">&#8722;1</tspan><tspan dy="14">)</tspan></text>
<clipPath id="clE"><rect x="1047.8" y="382" width="290.5" height="169.9"/></clipPath>
<g clip-path="url(#clE)" fill="none">
<line x1="1047.8" y1="390.4" x2="1338.3" y2="390.4" stroke="#000" stroke-width="4.1" stroke-dasharray="4.1 6.5"/>
<circle cx="1071" cy="504.6" r="12" stroke="#0000ff" stroke-width="3"/>
<circle cx="1105.9" cy="521.1" r="12" stroke="#0000ff" stroke-width="3"/>
<circle cx="1140.8" cy="535.1" r="12" stroke="#0000ff" stroke-width="3"/>
<circle cx="1175.6" cy="545.8" r="12" stroke="#0000ff" stroke-width="3"/>
<circle cx="1210.5" cy="550.3" r="12" stroke="#0000ff" stroke-width="3"/>
<circle cx="1245.3" cy="551.4" r="12" stroke="#0000ff" stroke-width="3"/>
<circle cx="1280.2" cy="551.9" r="12" stroke="#0000ff" stroke-width="3"/>
<circle cx="1315.1" cy="551.9" r="12" stroke="#0000ff" stroke-width="3"/>
<circle cx="1349.9" cy="551.9" r="12" stroke="#0000ff" stroke-width="3"/>
<circle cx="1071" cy="492.2" r="12" stroke="#ffa500" stroke-width="3"/>
<circle cx="1105.9" cy="498.5" r="12" stroke="#ffa500" stroke-width="3"/>
<circle cx="1140.8" cy="504.9" r="12" stroke="#ffa500" stroke-width="3"/>
<circle cx="1175.6" cy="511.2" r="12" stroke="#ffa500" stroke-width="3"/>
<circle cx="1210.5" cy="517.6" r="12" stroke="#ffa500" stroke-width="3"/>
<circle cx="1245.3" cy="523.9" r="12" stroke="#ffa500" stroke-width="3"/>
<circle cx="1280.2" cy="530.3" r="12" stroke="#ffa500" stroke-width="3"/>
<circle cx="1315.1" cy="536.6" r="12" stroke="#ffa500" stroke-width="3"/>
<circle cx="1349.9" cy="543" r="12" stroke="#ffa500" stroke-width="3"/>
<polyline points="1036.2,486 1047.8,491.3 1179.1,551.9 1349.9,551.9" fill="none" stroke="#0000ff" stroke-width="10.7" stroke-linejoin="round"/>
<polyline points="1036.2,488.6 1047.8,490.5 1338.3,539.1" fill="none" stroke="#ffa500" stroke-width="10.7" stroke-linejoin="round"/>
</g>
<rect x="1047.8" y="382" width="290.5" height="169.9" fill="none" stroke="#000" stroke-width="2"/>
<path d="M1047.8,551.9v9.3M1105.9,551.9v9.3M1164,551.9v9.3M1222.1,551.9v9.3M1280.2,551.9v9.3M1338.3,551.9v9.3" stroke="#000" stroke-width="2" fill="none"/>
<path d="M1047.8,551.9h-9.3M1047.8,519.6h-9.3M1047.8,487.3h-9.3M1047.8,455h-9.3M1047.8,422.7h-9.3M1047.8,390.4h-9.3" stroke="#000" stroke-width="2" fill="none"/>
<text x="1047.8" y="594.2" font-size="31.8" text-anchor="middle" >0</text>
<text x="1164" y="594.2" font-size="31.8" text-anchor="middle" >10</text>
<text x="1280.2" y="594.2" font-size="31.8" text-anchor="middle" >20</text>
<clipPath id="clF"><rect x="1358.6" y="382" width="290.1" height="169.9"/></clipPath>
<g clip-path="url(#clF)" fill="none">
<line x1="1358.6" y1="390.4" x2="1648.7" y2="390.4" stroke="#000" stroke-width="4.1" stroke-dasharray="4.1 6.5"/>
<circle cx="1381.8" cy="498.8" r="12" stroke="#0000ff" stroke-width="3"/>
<circle cx="1416.6" cy="507" r="12" stroke="#0000ff" stroke-width="3"/>
<circle cx="1451.4" cy="513.3" r="12" stroke="#0000ff" stroke-width="3"/>
<circle cx="1486.2" cy="518.6" r="12" stroke="#0000ff" stroke-width="3"/>
<circle cx="1521.1" cy="522.7" r="12" stroke="#0000ff" stroke-width="3"/>
<circle cx="1555.9" cy="529.8" r="12" stroke="#0000ff" stroke-width="3"/>
<circle cx="1590.7" cy="535.9" r="12" stroke="#0000ff" stroke-width="3"/>
<circle cx="1625.5" cy="540.1" r="12" stroke="#0000ff" stroke-width="3"/>
<circle cx="1660.3" cy="543" r="12" stroke="#0000ff" stroke-width="3"/>
<circle cx="1381.8" cy="483.9" r="12" stroke="#ffa500" stroke-width="3"/>
<circle cx="1416.6" cy="470.7" r="12" stroke="#ffa500" stroke-width="3"/>
<circle cx="1451.4" cy="459.7" r="12" stroke="#ffa500" stroke-width="3"/>
<circle cx="1486.2" cy="447.6" r="12" stroke="#ffa500" stroke-width="3"/>
<circle cx="1521.1" cy="433.8" r="12" stroke="#ffa500" stroke-width="3"/>
<circle cx="1555.9" cy="425.3" r="12" stroke="#ffa500" stroke-width="3"/>
<circle cx="1590.7" cy="416.2" r="12" stroke="#ffa500" stroke-width="3"/>
<circle cx="1625.5" cy="406.2" r="12" stroke="#ffa500" stroke-width="3"/>
<circle cx="1660.3" cy="396.9" r="12" stroke="#ffa500" stroke-width="3"/>
<polyline points="1347,489.9 1358.6,491.3 1648.7,528.5" fill="none" stroke="#0000ff" stroke-width="10.7" stroke-linejoin="round"/>
<polyline points="1347,493.4 1358.6,489.7 1648.7,398" fill="none" stroke="#ffa500" stroke-width="10.7" stroke-linejoin="round"/>
</g>
<rect x="1358.6" y="382" width="290.1" height="169.9" fill="none" stroke="#000" stroke-width="2"/>
<path d="M1358.6,551.9v9.3M1416.6,551.9v9.3M1474.6,551.9v9.3M1532.7,551.9v9.3M1590.7,551.9v9.3M1648.7,551.9v9.3" stroke="#000" stroke-width="2" fill="none"/>
<path d="M1358.6,551.9h-9.3M1358.6,519.6h-9.3M1358.6,487.3h-9.3M1358.6,455h-9.3M1358.6,422.7h-9.3M1358.6,390.4h-9.3" stroke="#000" stroke-width="2" fill="none"/>
<text x="1358.6" y="594.2" font-size="31.8" text-anchor="middle" >0</text>
<text x="1474.6" y="594.2" font-size="31.8" text-anchor="middle" >10</text>
<text x="1590.7" y="594.2" font-size="31.8" text-anchor="middle" >20</text>
<clipPath id="clG"><rect x="1669.2" y="382" width="290" height="169.9"/></clipPath>
<g clip-path="url(#clG)" fill="none">
<line x1="1669.2" y1="390.4" x2="1959.2" y2="390.4" stroke="#000" stroke-width="4.1" stroke-dasharray="4.1 6.5"/>
<circle cx="1692.4" cy="467.9" r="12" stroke="#ffa500" stroke-width="3"/>
<circle cx="1727.2" cy="405.4" r="12" stroke="#ffa500" stroke-width="3"/>
<circle cx="1762" cy="391.4" r="12" stroke="#ffa500" stroke-width="3"/>
<circle cx="1796.8" cy="391.4" r="12" stroke="#ffa500" stroke-width="3"/>
<circle cx="1831.6" cy="391.4" r="12" stroke="#ffa500" stroke-width="3"/>
<circle cx="1866.4" cy="391.4" r="12" stroke="#ffa500" stroke-width="3"/>
<circle cx="1901.2" cy="391.4" r="12" stroke="#ffa500" stroke-width="3"/>
<circle cx="1936" cy="391.4" r="12" stroke="#ffa500" stroke-width="3"/>
<circle cx="1970.8" cy="391.4" r="12" stroke="#ffa500" stroke-width="3"/>
<polyline points="1657.6,507.5 1669.2,490.5 1737.6,390.4 1970.8,390.4" fill="none" stroke="#0000ff" stroke-width="10.7" stroke-linejoin="round"/>
<polyline points="1657.6,508.4 1669.2,488.9 1727.8,390.4 1970.8,390.4" fill="none" stroke="#ffa500" stroke-width="10.7" stroke-linejoin="round"/>
</g>
<rect x="1669.2" y="382" width="290" height="169.9" fill="none" stroke="#000" stroke-width="2"/>
<path d="M1669.2,551.9v9.3M1727.2,551.9v9.3M1785.2,551.9v9.3M1843.2,551.9v9.3M1901.2,551.9v9.3M1959.2,551.9v9.3" stroke="#000" stroke-width="2" fill="none"/>
<path d="M1669.2,551.9h-9.3M1669.2,519.6h-9.3M1669.2,487.3h-9.3M1669.2,455h-9.3M1669.2,422.7h-9.3M1669.2,390.4h-9.3" stroke="#000" stroke-width="2" fill="none"/>
<text x="1669.2" y="594.2" font-size="31.8" text-anchor="middle" >0</text>
<text x="1785.2" y="594.2" font-size="31.8" text-anchor="middle" >10</text>
<text x="1901.2" y="594.2" font-size="31.8" text-anchor="middle" >20</text>
<text x="1029" y="402.1" font-size="31.8" text-anchor="end" >1</text>
<text x="1029" y="563.6" font-size="31.8" text-anchor="end" >0</text>
<text transform="translate(1004,467) rotate(-90)" font-size="39.6" text-anchor="middle" >&#10216;<tspan font-style="italic">w</tspan>&#10217;</text>
<text x="1503.5" y="640.4" font-size="39.6" text-anchor="middle" ><tspan font-style="italic">t</tspan> (sec)</text>
<clipPath id="axH"><rect x="95.4" y="698.3" width="314.8" height="292.9"/></clipPath>
<clipPath id="axH2"><rect x="95.4" y="698.3" width="314.8" height="304.4"/></clipPath>
<clipPath id="cH"><rect x="95.4" y="698.3" width="314.8" height="292.9"/></clipPath>
<g clip-path="url(#cH)">
<filter id="fcH" filterUnits="userSpaceOnUse" x="75.4" y="678.3" width="354.8" height="332.9"><feGaussianBlur stdDeviation="2"/></filter>
<g filter="url(#fcH)">
<rect x="65.4" y="668.3" width="374.8" height="352.9" fill="#7c06ff"/>
<path d="M81.9,682.3 94.3,682.3 94.4,708 95.8,733.7 96.9,804.1 98.3,820.2 99.4,847.4 100.9,857.6 101.9,872.8 103.6,881 104.3,890.4 105.9,895 106.8,902.3 108.5,906.7 109.3,911.7 114.3,925.5 115.9,927.7 119.3,934.9 124.3,941.9 129.3,947 136.6,953.4 140.1,955.8 148.5,960.5 159,965.1 174,969.8 179.2,970.6 183.7,972.1 189.2,972.8 195.5,974.5 204.1,975.4 209.3,976.8 219.1,977.5 227.8,979.2 241.6,980 250.9,981.5 269,982.4 281.1,983.8 306.4,984.7 322.9,986.2 358.8,987.1 381.8,988.5 426.2,989.2 426.2,1007.2 79.4,1007.2 79.4,682.3 81.9,682.3Z" fill="#7216ff"/>
<path d="M81.9,682.3 94.1,682.3 94.4,728.2 96.9,818 99.4,858.4 101.9,882.2 104.3,898.1 109.3,918.4 114.3,931.1 120.7,941.8 129,951.1 134.8,955.8 142.2,960.5 151.8,965.1 159.2,967.9 171.7,971.6 184.4,974.5 213.5,979.2 249.1,982.8 299,986.2 352.3,988.5 426.2,990.6 426.2,1007.2 79.4,1007.2 79.4,682.3 81.9,682.3Z" fill="#6826fe"/>
<path d="M81.9,682.3 93.9,682.3 94.4,746.9 96.9,830.6 99.4,868.3 103,897.3 106.8,916 111.8,930.6 114.9,937.1 119.3,944.1 126.8,952.7 133.5,958.1 139.3,961.8 146.8,965.5 156.7,969.4 176.7,974.8 206.6,979.9 241.6,983.6 278,986.2 326,988.5 426.2,991.4 426.2,1007.2 79.4,1007.2 79.4,682.3 81.9,682.3Z" fill="#5e35fe"/>
<path d="M81.9,682.3 93.7,682.3 94.4,764.4 96.8,841.2 99.4,877.4 101.9,898 104.3,911.8 106.8,921.8 109.6,930.1 111.8,935.5 116.5,944.1 124.3,953.7 129.3,958.2 136.2,962.8 144.3,967 151.8,970 166.6,974.5 177.1,976.8 206.9,981.5 229,983.8 259,986.1 302.4,988.5 367.8,990.8 426.2,992.1 426.2,1007.2 79.4,1007.2 79.4,682.3 81.9,682.3Z" fill="#5247fc"/>
<path d="M81.9,682.3 93.6,682.3 94.4,779.1 96.5,843.6 99.4,885.2 101.9,904.6 104.3,917.5 106.8,926.9 109.6,934.7 112.9,941.8 116.8,948.2 124.3,956.8 129.3,960.9 135.9,965.1 144.3,969.2 152,972.1 161.7,975 174.2,977.8 204.1,982.4 243.9,986.2 283.1,988.5 342.5,990.8 426.2,992.9 426.2,1007.2 79.4,1007.2 79.4,682.3 81.9,682.3Z" fill="#4856fb"/>
<path d="M81.9,682.3 93.4,682.3 94.4,793 96.2,845.9 98.7,885.7 101.6,909 104.3,922.8 109.3,938.3 114.9,948.8 122.6,958.1 128.3,962.8 135.9,967.5 144.3,971.3 153.5,974.5 174.2,979.4 205,983.8 239.1,986.8 289,989.6 341.4,991.5 426.2,993.5 426.2,1007.2 79.4,1007.2 79.4,682.3 81.9,682.3Z" fill="#3e65fa"/>
<path d="M81.9,682.3 93.2,682.3 94.4,806 96.9,870.4 100.4,906.7 104.3,927.7 108.2,939.4 111.4,946.4 114.3,951.4 121.8,960.1 131.8,967.5 139.3,971.2 147.8,974.5 166.7,979.4 196.7,984.1 241.6,988 291.5,990.5 366.3,992.8 426.2,994 426.2,1007.2 79.4,1007.2 79.4,682.3 81.9,682.3Z" fill="#3473f8"/>
<path d="M81.9,682.3 93,682.3 94.4,818.2 96.4,871.6 99.4,905.7 101.9,921.7 104.3,932.4 106.8,940.1 111.8,950.7 115.3,955.8 119.3,960.5 124.3,964.8 129.3,968.2 136.8,972.1 142.6,974.5 158.6,979.2 179.2,983 219.1,987.3 276.5,990.7 356.3,993.3 426.2,994.5 426.2,1007.2 79.4,1007.2 79.4,682.3 81.9,682.3Z" fill="#2981f6"/>
<path d="M81.9,682.3 92.8,682.3 94.4,829.6 96.2,876.3 99,909 101.5,925.4 106,941.8 111.5,953.4 114.8,958.1 119.3,963.1 124.3,967.2 129.3,970.3 141.8,975.9 154.2,979.6 179.2,984.2 201.7,986.9 226.6,988.9 274,991.4 353.8,993.9 426.2,995.1 426.2,1007.2 79.4,1007.2 79.4,682.3 81.9,682.3Z" fill="#208ef4"/>
<path d="M81.9,682.3 92.6,682.3 94.4,840.6 95.8,878.6 98.4,911.4 100.9,927.7 105.2,944.1 108.2,951.1 110.8,955.8 118.7,965.1 126.8,971.2 131.8,973.9 141.8,977.9 159.2,982.3 176.7,985.3 196.7,987.6 221.6,989.6 269,992.1 346.4,994.4 426.2,995.6 426.2,1007.2 79.4,1007.2 79.4,682.3 81.9,682.3Z" fill="#169bf2"/>
<path d="M81.9,682.3 92.4,682.3 93.1,778.1 94.4,857 95.5,883.3 97.7,913.7 100,930.1 102,939.4 104.3,947.2 109.3,957.9 112.8,962.8 116.8,967.2 121.8,971.2 126.8,974.2 138.6,979.2 154.2,983.2 171.6,986.2 189.2,988.2 214.1,990.3 261.5,992.7 338.9,995 426.2,996.2 426.2,1007.2 79.4,1007.2 79.4,682.3 81.9,682.3Z" fill="#0ca7ef"/>
<path d="M81.9,682.3 92.3,682.3 93,782.8 94.4,871.9 97,916 99.4,934 103,948.8 106.8,958.3 109.5,962.8 114.3,968.5 119.3,972.7 124.3,975.8 136.8,981 154.2,985.2 174.2,988.1 203.7,990.8 251.6,993.3 328.9,995.5 426.2,996.9 426.2,1007.2 79.4,1007.2 79.4,682.3 81.9,682.3Z" fill="#00b5eb"/>
<path d="M81.9,682.3 92.1,682.3 92.8,785.1 94.2,876.3 96.9,923.7 99.4,941 102.7,953.4 106.8,962.9 110,967.5 114.3,972.1 121.8,977.3 134.3,982.5 149.4,986.2 169.2,989.1 209.1,992.3 259,994.5 311.4,995.8 426.2,997.5 426.2,1007.2 79.4,1007.2 79.4,682.3 81.9,682.3Z" fill="#0ac0e8"/>
<path d="M81.9,682.3 91.9,682.3 92.6,787.5 94,881 94.4,897.3 96.9,931.8 99.4,947.3 101.9,956.4 104.3,962.5 106.8,967 111.8,973 116.5,976.8 120.4,979.2 131.8,983.8 149.3,987.8 171.7,990.7 204.3,993.2 263.6,995.5 426.2,998 426.2,1007.2 79.4,1007.2 79.4,682.3 81.9,682.3Z" fill="#14cae5"/>
<path d="M81.9,682.3 91.7,682.3 93.7,881 94.4,908.2 96.4,934.7 99,951.1 101.9,961.2 104.8,967.5 110.1,974.5 114.3,978 119.3,981 129.3,985 144.1,988.5 161.7,991 187.3,993.2 237.8,995.5 336.4,997.6 426.2,998.4 426.2,1007.2 79.4,1007.2 79.4,682.3 81.9,682.3Z" fill="#1fd3e1"/>
<path d="M81.9,682.3 91.4,682.3 93.4,878.6 94.4,918.3 95.7,934.7 96.9,945.9 100,960.5 101.9,965.6 104.3,970.5 109.3,976.8 116.8,982.1 121.8,984.4 129.3,986.9 146.8,990.4 166.7,992.7 214.1,995.5 261.5,996.8 316.4,997.9 426.2,998.8 426.2,1007.2 79.4,1007.2 79.4,682.3 81.9,682.3Z" fill="#28dbde"/>
<path d="M81.9,682.3 91.2,682.3 93,874 93.9,913.7 94.8,932.4 96.9,952.1 99.4,963.1 103.2,972.1 108.9,979.2 116.8,984.3 128.8,988.5 140.4,990.8 159.5,993.2 195.4,995.5 264,997.5 426.2,999.2 426.2,1007.2 79.4,1007.2 79.4,682.3 81.9,682.3Z" fill="#32e3da"/>
<path d="M81.9,682.3 91,682.3 92.7,874 94.2,932.4 96.6,955.8 98.7,965.1 101.9,973.2 106.8,979.9 114.3,985.1 122.9,988.5 136.8,991.5 156.7,993.9 189.2,996 251.6,997.9 426.2,999.6 426.2,1007.2 79.4,1007.2 79.4,682.3 81.9,682.3Z" fill="#3dead5"/>
<path d="M81.9,682.3 90.7,682.3 92.5,876.3 93.8,934.7 95.5,953.4 97,962.8 98.8,969.8 100.9,974.5 103.8,979.2 105.9,981.5 111.8,985.8 119.3,989 129.3,991.5 149.3,994.3 181.7,996.5 244.1,998.3 426.2,1000 426.2,1007.2 79.4,1007.2 79.4,682.3 81.9,682.3Z" fill="#46efd1"/>
<path d="M81.9,682.3 90.5,682.3 91.2,801.5 93.5,937.1 95.1,958.1 97.4,969.8 100.1,976.8 104.3,982.7 106.8,984.9 111.8,987.9 116.8,990 124.3,992.1 139.3,994.5 161.7,996.3 184.2,997.4 254,999.1 426.2,1000.5 426.2,1007.2 79.4,1007.2 79.4,682.3 81.9,682.3Z" fill="#50f4cc"/>
<path d="M81.9,682.3 90.3,682.3 90.9,810.9 93.2,941.8 94.4,960.5 96.9,974.2 99.4,980.4 103.9,986.2 107.2,988.5 111.8,990.7 120.2,993.2 135.3,995.5 159.2,997.3 249.1,999.7 426.2,1000.9 426.2,1007.2 79.4,1007.2 79.4,682.3 81.9,682.3Z" fill="#5df9c7"/>
<path d="M81.9,682.3 90.1,682.3 90.6,820.2 92.7,944.1 93.6,962.8 95,972.1 96.9,980 99.4,985 101.9,987.9 106,990.8 109.3,992.3 119.3,994.9 126.8,996.1 151.8,998.2 174.2,999 256.5,1000.4 426.2,1001.3 426.2,1007.2 79.4,1007.2 79.4,682.3 81.9,682.3Z" fill="#66fcc2"/>
<path d="M81.9,682.3 89.8,682.3 90.6,867 92.4,958.1 93,969.8 94.9,981.5 97.1,986.2 99.4,989.1 101.9,991.4 106.8,994.4 116.8,997 141.8,999.3 249.1,1001 426.2,1001.8 426.2,1007.2 79.4,1007.2 79.4,682.3 81.9,682.3Z" fill="#70febc"/>
<path d="M81.9,682.3 89.6,682.3 90,874 91.1,958.1 91.7,974.5 93.2,988.5 94.4,994 96.9,996.8 101.9,998.7 110.8,1000.2 131.8,1000.9 246.6,1001.8 426.2,1002.2 426.2,1007.2 79.4,1007.2 79.4,682.3 81.9,682.3Z" fill="#7affb7"/>
</g>
</g>
<g clip-path="url(#axH)">
<filter id="bl1"><feGaussianBlur stdDeviation="1.2"/></filter>
<g filter="url(#bl1)">
<polygon points="415.2,698.3 247.9,698.3 249.2,703.5 250.5,708.6 251.8,713.8 253.2,718.9 254.7,724.1 256.1,729.3 257.6,734.4 259.2,739.6 260.8,744.7 262.4,749.9 264.1,755.1 265.8,760.2 267.6,765.4 269.4,770.5 271.3,775.7 273.2,780.8 275.3,786 277.3,791.2 279.5,796.3 281.7,801.5 284,806.6 286.4,811.8 288.8,817 291.4,822.1 294.1,827.3 296.8,832.4 299.7,837.6 302.7,842.8 305.9,847.9 309.1,853.1 312.6,858.2 316.2,863.4 320,868.6 323.9,873.7 328.1,878.9 332.5,884 337.2,889.2 342.1,894.4 347.4,899.5 353,904.7 359,909.8 365.5,915 372.4,920.2 379.9,925.3 388,930.5 396.9,935.6 406.7,940.8 415.2,945.9 415.2,951.1 415.2,956.3 415.2,961.4 415.2,966.6 415.2,971.7 415.2,976.9 415.2,982.1 415.2,987.2 415.2,992.4 415.2,997.5 415.2,1002.7 415.2,1002.7" fill="#ff8143" />
<polygon points="415.2,698.3 248.5,698.3 250.8,703.5 253.3,708.6 255.8,713.8 258.4,718.9 261.1,724.1 263.8,729.3 266.7,734.4 269.7,739.6 272.7,744.7 275.9,749.9 279.2,755.1 282.6,760.2 286.1,765.4 289.7,770.5 293.5,775.7 297.5,780.8 301.6,786 305.8,791.2 310.3,796.3 314.9,801.5 319.7,806.6 324.8,811.8 330,817 335.6,822.1 341.3,827.3 347.4,832.4 353.7,837.6 360.4,842.8 367.4,847.9 374.8,853.1 382.6,858.2 390.9,863.4 399.6,868.6 408.9,873.7 415.2,878.9 415.2,884 415.2,889.2 415.2,894.4 415.2,899.5 415.2,904.7 415.2,909.8 415.2,915 415.2,920.2 415.2,925.3 415.2,930.5 415.2,935.6 415.2,940.8 415.2,945.9 415.2,951.1 415.2,956.3 415.2,961.4 415.2,966.6 415.2,971.7 415.2,976.9 415.2,982.1 415.2,987.2 415.2,992.4 415.2,997.5 415.2,1002.7 415.2,1002.7" fill="#ff0000" />
</g></g>
<linearGradient id="gtop" x1="0" y1="0" x2="1" y2="0"><stop offset="0%" stop-color="#8000ff"/><stop offset="16%" stop-color="#00b5eb"/><stop offset="33%" stop-color="#4df3ce"/><stop offset="50%" stop-color="#99fca6"/><stop offset="66%" stop-color="#ffb360"/><stop offset="83%" stop-color="#ff4d27"/><stop offset="100%" stop-color="#ff0000"/></linearGradient>
<rect x="244.9" y="698.3" width="12.5" height="13.7" fill="url(#gtop)"/>
<g stroke-linejoin="round" clip-path="url(#axH2)"><polyline points="254.2,710.5 256.2,714.7 258.4,718.9 260.6,723.1 262.8,727.4 265.1,731.6 267.5,735.8 269.9,740 272.4,744.2 275,748.4 277.6,752.7 280.4,756.9 283.2,761.1 286,765.3 289,769.5 292.1,773.8 295.3,778 298.5,782.2 301.9,786.4 305.4,790.6 309,794.9 312.7,799.1 316.6,803.3 320.6,807.5 324.7,811.7 329,816 333.4,820.2 338.1,824.4 342.9,828.6 347.8,832.8 353,837 358.4,841.3 364.1,845.5 370,849.7 376.1,853.9 382.5,858.1 389.2,862.4 396.2,866.6 403.6,870.8 411.3,875" fill="none" stroke="#fff" stroke-width="15.2" /><polyline points="254.2,710.5 256.2,714.7 258.4,718.9 260.6,723.1 262.8,727.4 265.1,731.6 267.5,735.8 269.9,740 272.4,744.2 275,748.4 277.6,752.7 280.4,756.9 283.2,761.1 286,765.3 289,769.5 292.1,773.8 295.3,778 298.5,782.2 301.9,786.4 305.4,790.6 309,794.9 312.7,799.1 316.6,803.3 320.6,807.5 324.7,811.7 329,816 333.4,820.2 338.1,824.4 342.9,828.6 347.8,832.8 353,837 358.4,841.3 364.1,845.5 370,849.7 376.1,853.9 382.5,858.1 389.2,862.4 396.2,866.6 403.6,870.8 411.3,875" fill="none" stroke="#0000ff" stroke-width="5.2" /><polyline points="251,710.5 252.6,716.4 254.2,722.4 255.9,728.4 257.6,734.3 259.4,740.3 261.2,746.3 263.2,752.2 265.1,758.2 267.2,764.2 269.3,770.1 271.4,776.1 273.7,782 276.1,788 278.5,794 281,799.9 283.7,805.9 286.4,811.9 289.3,817.8 292.3,823.8 295.4,829.8 298.7,835.7 302.1,841.7 305.7,847.7 309.5,853.6 313.5,859.6 317.7,865.6 322.2,871.5 327,877.5 332,883.4 337.4,889.4 343.2,895.4 349.4,901.3 356,907.3 363.3,913.3 371.1,919.2 379.7,925.2 389.2,931.2 399.6,937.1 411.3,943.1" fill="none" stroke="#fff" stroke-width="15.2" /><polyline points="251,710.5 252.6,716.4 254.2,722.4 255.9,728.4 257.6,734.3 259.4,740.3 261.2,746.3 263.2,752.2 265.1,758.2 267.2,764.2 269.3,770.1 271.4,776.1 273.7,782 276.1,788 278.5,794 281,799.9 283.7,805.9 286.4,811.9 289.3,817.8 292.3,823.8 295.4,829.8 298.7,835.7 302.1,841.7 305.7,847.7 309.5,853.6 313.5,859.6 317.7,865.6 322.2,871.5 327,877.5 332,883.4 337.4,889.4 343.2,895.4 349.4,901.3 356,907.3 363.3,913.3 371.1,919.2 379.7,925.2 389.2,931.2 399.6,937.1 411.3,943.1" fill="none" stroke="#ffa500" stroke-width="5.2" /></g>
<clipPath id="cI"><rect x="530.2" y="698.3" width="332" height="292.9"/></clipPath>
<g clip-path="url(#cI)">
<filter id="fcI" filterUnits="userSpaceOnUse" x="510.2" y="678.3" width="372" height="332.9"><feGaussianBlur stdDeviation="3"/></filter>
<g filter="url(#fcI)">
<rect x="500.2" y="668.3" width="392" height="352.9" fill="#e1e1e1"/>
<path d="M516.8,682.3 878.2,682.3 878.2,982 852,991 823.4,1001.7 820.9,1004.5 820.9,1007.2 514.2,1007.2 514.2,682.3 516.8,682.3Z" fill="#dedede"/>
<path d="M516.8,682.3 878.2,682.3 878.2,959.9 833.6,974.4 789.2,991.1 764.1,1001.7 762,1004.5 762,1007.2 514.2,1007.2 514.2,682.3 516.8,682.3Z" fill="#dadada"/>
<path d="M516.8,682.3 878.2,682.3 878.2,941 823,958.1 797,967.2 770.8,977.2 744.6,988.2 715.6,1001.7 713.7,1004.5 713.7,1007.2 514.2,1007.2 514.2,682.3 516.8,682.3Z" fill="#d7d7d7"/>
<path d="M516.8,682.3 878.2,682.3 878.2,924.8 846.7,933.5 811.2,944.4 779.4,955.3 750.8,966.2 718.5,980.1 684.4,996.8 675.3,1001.7 673.5,1004.5 673.5,1007.2 514.2,1007.2 514.2,682.3 516.8,682.3Z" fill="#d3d3d3"/>
<path d="M516.8,682.3 878.2,682.3 878.2,910.5 833.7,922.3 797,933.4 764.4,944.4 731.6,957 697.5,971.8 663.5,988.9 641.1,1001.7 639.5,1004.5 639.5,1007.2 514.2,1007.2 514.2,682.3 516.8,682.3Z" fill="#cfcfcf"/>
<path d="M516.8,682.3 878.2,682.3 878.2,897.9 834.2,908.9 789.2,921.8 752.5,933.9 715.8,947.8 679.2,963.9 643,982.6 611.8,1001.7 610.3,1004.5 610.3,1007.2 514.2,1007.2 514.2,682.3 516.8,682.3Z" fill="#cccccc"/>
<path d="M516.8,682.3 878.2,682.3 878.2,886.7 830.4,898 781,911.6 738.9,925.3 700.1,940 679.2,949 659.8,958.1 642.5,966.9 624.1,977.2 605.9,988.4 586.4,1001.7 585.1,1004.5 585.1,1007.2 514.2,1007.2 514.2,682.3 516.8,682.3Z" fill="#c8c8c8"/>
<path d="M516.8,682.3 878.2,682.3 878.2,876.6 820.1,889.8 769.7,903.5 726.3,917.4 684,933.5 663.5,942.4 642.3,952.6 621.8,963.5 603.2,974.5 582.7,988.1 572.3,996.3 567.3,1001.7 566.5,1004.5 566.5,1007.2 514.2,1007.2 514.2,682.3 516.8,682.3Z" fill="#c5c5c5"/>
<path d="M516.8,682.3 878.2,682.3 878.2,867.4 824.6,878.9 771,892.5 726.1,906.2 687.9,919.8 660.8,931 632,944.5 605.9,958.7 580.8,974.4 571.8,981.1 566.6,987.1 564,992.3 560.4,1001.7 560,1007.2 514.2,1007.2 514.2,682.3 516.8,682.3Z" fill="#c1c1c1"/>
<path d="M516.8,682.3 878.2,682.3 878.2,859 820.6,870.8 763,885.1 737,892.5 711.2,900.7 687.8,908.9 666.6,917.1 639.9,928.7 613.5,941.7 589.5,955.3 569.2,968.9 564,974.4 561.6,979.9 559.3,993.5 557.2,1001.7 556.9,1007.2 514.2,1007.2 514.2,682.3 516.8,682.3Z" fill="#bebebe"/>
<path d="M516.8,682.3 878.2,682.3 878.2,851.4 844.2,857.8 808.5,865.2 776.1,872.8 749.9,879.7 723.7,887.2 694.9,896.4 667.8,906.2 645.1,915.4 618.9,927.4 595.4,939.7 574,952.6 566.6,957.8 561.3,962.3 558.5,966.2 557,971.7 557.2,990.8 555.1,1001.7 554.8,1007.2 514.2,1007.2 514.2,682.3 516.8,682.3Z" fill="#bababa"/>
<path d="M516.8,682.3 878.2,682.3 878.2,844.3 837.9,851.6 799.6,859.4 765.6,867.3 736.8,874.8 705.4,883.9 679.1,892.5 650.4,903.2 626.8,913.2 601.5,925.3 579.7,937.3 564,947.7 555.6,955.3 553.5,958.5 551.9,963.5 552.2,969 554.4,979.9 555.3,988.1 555.1,993.5 553.4,1001.7 553.1,1007.2 514.2,1007.2 514.2,682.3 516.8,682.3Z" fill="#b7b7b7"/>
<path d="M516.8,682.3 878.2,682.3 878.2,837.7 831.1,846 794.4,853.3 755.1,862.2 723.7,870.3 694.5,878.9 661.8,889.8 634.7,900.2 611.1,910.5 587.5,922.3 569.2,932.9 558.7,940.6 553.5,945.8 550.9,949.2 547.9,955.3 547,960.8 547.9,966.2 551.7,977.2 553.4,985.4 553.7,993.5 552.2,1001.7 551.9,1007.2 514.2,1007.2 514.2,682.3 516.8,682.3Z" fill="#b3b3b3"/>
<path d="M516.8,682.3 878.2,682.3 878.2,831.6 836.3,838.6 791.8,847 749.9,856.3 714.7,865.2 679.2,875.7 650.4,885.5 621.6,896.7 595.4,908.6 574.4,919.5 561.2,928 556.1,932.3 550.9,938.1 545.6,947.4 543.4,955.3 543.5,960.8 545.1,966.2 550,977.2 551.7,982.6 552.6,988.1 552.6,993.5 551,1001.7 550.7,1007.2 514.2,1007.2 514.2,682.3 516.8,682.3Z" fill="#afafaf"/>
<path d="M516.8,682.3 878.2,682.3 878.2,826 836.3,832.6 789.2,841.2 747.3,850.1 708.4,859.8 670.9,870.7 639.9,881.2 611.2,892.5 584.9,904.6 566.6,914.7 556.1,922.3 550.9,927.8 548.2,931.6 545.6,936.5 543,943.2 540.8,952.6 540.5,958.1 541.8,963.5 548.6,977.2 551,985.4 551.6,993.5 550.1,1001.7 549.8,1007.2 514.2,1007.2 514.2,682.3 516.8,682.3Z" fill="#acacac"/>
<path d="M516.8,682.3 878.2,682.3 878.2,820.6 833.7,827.4 786.5,835.7 744.6,844.4 703.5,854.3 665.2,865.2 632.7,876.1 604.9,887.1 577,899.9 561.3,908.9 556.1,912.9 550.9,918.3 545.6,926.6 543,932.9 540.4,942 538.7,952.6 539,960.8 541.1,966.2 547.4,977.2 549.4,982.6 550.5,988.1 550.5,996.3 549.3,1001.7 548.9,1007.2 514.2,1007.2 514.2,682.3 516.8,682.3Z" fill="#a8a8a8"/>
<path d="M516.8,682.3 878.2,682.3 878.2,815.6 825.8,823.4 781.3,831.1 736.8,840.1 699.8,848.8 660.7,859.8 627.6,870.7 598,882.2 571.8,894.3 558.7,902.1 550.9,909.3 545.6,917.2 543,923.3 540.4,932 537.8,945.3 537.1,958.1 538.2,963.5 546.2,977.2 549.2,985.4 550,993.5 548.4,1001.7 548.1,1007.2 514.2,1007.2 514.2,682.3 516.8,682.3Z" fill="#a5a5a5"/>
<path d="M516.8,682.3 878.2,682.3 878.2,810.9 822.8,818.8 778.7,826.2 734.2,834.9 697.4,843.4 657.1,854.3 623.3,865.2 592.8,876.9 566.6,889.1 556.1,895.9 550.9,900.8 548.2,904.1 545.6,908.4 543,914.2 540.4,922.5 537.8,935.1 536,949.9 535.8,958.1 537.8,965.5 545.2,977.2 548.4,985.4 549.2,993.5 547.7,1001.7 547.4,1007.2 514.2,1007.2 514.2,682.3 516.8,682.3Z" fill="#a1a1a1"/>
<path d="M516.8,682.3 878.2,682.3 878.2,806.4 827.4,813.4 776.4,821.5 733.2,829.7 692.3,838.9 654.6,848.8 620,859.8 587.5,872 564,883 553.5,890.2 548.2,895.9 545.6,900.1 543,905.7 540.4,913.7 537.8,925.7 535.1,945.4 534.7,955.3 535,960.8 537,966.2 544.3,977.2 547.7,985.4 548.5,993.5 547.1,1001.7 546.7,1007.2 514.2,1007.2 514.2,682.3 516.8,682.3Z" fill="#9e9e9e"/>
<path d="M516.8,682.3 878.2,682.3 878.2,802.2 825.8,809.1 776.1,816.8 731.6,824.9 687,834.6 653,843.4 616.3,854.7 582.3,867.3 569.2,873.1 561.3,877.2 556.1,880.6 550.9,885.1 545.6,892.2 543,897.6 540.4,905.3 537.8,916.8 535.1,935.5 534,952.6 534.3,960.8 535.9,966.2 543.4,977.2 547,985.4 547.9,993.5 546.1,1004.5 546.1,1007.2 514.2,1007.2 514.2,682.3 516.8,682.3Z" fill="#9a9a9a"/>
<path d="M516.8,682.3 878.2,682.3 878.2,798.2 823.2,805.2 770.8,813.1 723.8,821.5 687,829.4 652.6,837.9 615.7,848.8 584.9,859.8 571.7,865.2 561.3,870.3 556.1,873.6 550.9,877.9 545.6,884.7 543,889.9 540.4,897.3 537.8,908.3 535.1,926.3 533.3,949.9 533.5,960.8 535.1,966.7 543,977.8 546.4,985.4 547.4,993.5 545.6,1002.8 545.4,1007.2 514.2,1007.2 514.2,682.3 516.8,682.3Z" fill="#979797"/>
<path d="M516.8,682.3 878.2,682.3 878.2,794.4 825.8,800.7 775.8,807.9 727.7,816.1 687.4,824.3 650.4,833.2 613.7,843.7 579.7,855.6 566.6,861.1 558.7,865.2 553.5,868.8 548.2,873.9 543,882.6 540.4,889.7 537.8,900.3 535.1,917.6 532.5,949.9 532.8,960.8 535.1,968.2 541.9,977.2 545.7,985.4 546.8,993.5 545.2,1001.7 544.9,1007.2 514.2,1007.2 514.2,682.3 516.8,682.3Z" fill="#939393"/>
<path d="M516.8,682.3 878.2,682.3 878.2,790.7 824.8,797 773.5,804.1 731.6,810.9 687,819.6 647.8,828.7 613.7,838.2 579.7,849.7 566.6,855 558.7,858.9 553.5,862.3 548.2,867.2 543,875.6 540.4,882.4 537.8,892.7 535.1,909.2 532.5,939.3 532.2,960.8 532.6,963.5 534.8,969 541.1,977.2 545.1,985.4 546.3,993.5 544.7,1001.7 544.3,1007.2 514.2,1007.2 514.2,682.3 516.8,682.3Z" fill="#8f8f8f"/>
<path d="M516.8,682.3 878.2,682.3 878.2,787.3 820.6,793.8 773.5,800.1 724.6,807.9 681.8,816.1 642.5,825.1 606.1,835.2 573.9,846.1 564,850.2 556.1,854.4 550.9,858.3 545.6,864.3 543,868.9 540.4,875.5 537.8,885.3 535.1,901.3 532.5,930.2 531.7,952.6 532.1,963.5 534.1,969 542.2,979.9 544.6,985.4 545.7,993.5 543.8,1004.5 543.8,1007.2 514.2,1007.2 514.2,682.3 516.8,682.3Z" fill="#8c8c8c"/>
<path d="M516.8,682.3 878.2,682.3 878.2,783.9 820.6,790.2 768.6,797 723.7,803.9 684.4,811.2 645.1,819.7 607.2,829.7 574.4,840.4 564,844.5 556.1,848.5 550.9,852.3 545.6,858.1 543,862.5 540.4,868.8 537.8,878.3 535.1,893.7 532.5,921.5 531.2,952.6 531.7,963.5 533.4,969 541.6,979.9 544.1,985.4 545.3,993.5 543.2,1004.5 543.2,1007.2 514.2,1007.2 514.2,682.3 516.8,682.3Z" fill="#888888"/>
<path d="M516.8,682.3 878.2,682.3 878.2,780.7 823.2,786.5 768.2,793.4 725.5,799.7 679.5,807.9 641.3,816.1 603.2,826 571.8,836 561.3,840.2 555.3,843.4 550.9,846.5 545.6,852.1 543,856.4 540.4,862.5 537.8,871.6 535.1,886.4 532.5,913.2 530.9,949.9 531,960.8 532.5,968.7 540.9,979.9 544.3,988.1 544.6,996.3 543.1,1001.7 542.7,1007.2 514.2,1007.2 514.2,682.3 516.8,682.3Z" fill="#858585"/>
<path d="M516.8,682.3 878.2,682.3 878.2,777.6 821.9,783.3 770.8,789.5 718.8,797 679.2,803.9 637.3,812.6 602,821.5 569.2,831.8 560.8,835.2 553.5,839.1 548.2,843.3 545.6,846.4 543,850.5 540.4,856.3 537.8,865.1 535.1,879.4 532.5,905.2 530.6,947.1 530.6,960.8 531.4,966.2 532.5,969.8 540.4,980 541.9,982.6 543.8,988.1 544.2,996.3 542.7,1001.7 542.3,1007.2 514.2,1007.2 514.2,682.3 516.8,682.3Z" fill="#818181"/>
<path d="M516.8,682.3 878.2,682.3 878.2,774.7 818,780.6 770.9,786 723.7,792.6 680.4,799.7 639.3,807.9 603.2,816.6 569.2,826.8 561.3,829.8 553.5,833.9 548.2,837.9 545.6,840.8 543,844.8 540.4,850.4 537.8,858.9 535.1,872.6 532.5,897.5 530.2,947.1 530.2,960.8 531,966.2 532.5,970.8 539.8,979.9 541.4,982.6 543.4,988.1 543.9,993.5 542.2,1001.7 541.8,1007.2 514.2,1007.2 514.2,682.3 516.8,682.3Z" fill="#7e7e7e"/>
<path d="M516.8,682.3 878.2,682.3 878.2,771.8 815.4,777.8 766.4,783.3 721.1,789.4 676.6,796.6 634.7,804.8 598.8,813.4 569.2,822 561.3,824.9 553.5,828.8 548.2,832.7 545.6,835.5 543,839.3 540.4,844.8 537.8,852.9 535.1,866.1 532.5,890 529.9,943.9 529.9,962.3 530.5,966.2 532.5,971.7 539.2,979.9 542.1,985.4 542.9,988.1 543.5,993.5 541.3,1004.5 541.3,1007.2 514.2,1007.2 514.2,682.3 516.8,682.3Z" fill="#7a7a7a"/>
<path d="M516.8,682.3 878.2,682.3 878.2,769.1 812.7,775.1 762.6,780.6 715.8,786.8 671.3,793.8 627,802.4 592.7,810.6 564,819.2 556.1,822.5 550.9,825.6 545.6,830.4 543,834.1 540.4,839.3 537.8,847.1 535.1,859.8 532.5,882.8 532,892.5 529.9,934.5 529.9,965.2 532,971.7 538.6,979.9 541.6,985.4 542.5,988.1 542.8,996.3 541.3,1001.7 540.9,1007.2 514.2,1007.2 514.2,682.3 516.8,682.3Z" fill="#777777"/>
<path d="M516.8,682.3 878.2,682.3 878.2,766.4 815.4,771.9 763,777.5 716.6,783.3 673.9,789.8 632,797.5 592.8,806.4 564,814.7 556.1,817.8 550.9,820.8 545.6,825.4 543,828.9 540.4,834 537.8,841.5 534.7,857 532.5,875.9 531.7,889.8 529.9,925.6 529.5,955.3 529.8,966.2 531.6,971.7 539.9,982.6 542.1,988.1 542.5,996.3 540.9,1001.7 540.4,1007.2 514.2,1007.2 514.2,682.3 516.8,682.3Z" fill="#737373"/>
<path d="M516.8,682.3 878.2,682.3 878.2,763.8 815.4,769.1 765.6,774.2 715.8,780.2 675.6,786 629.4,794.2 592.8,802.3 564,810.2 556.1,813.3 550.9,816.2 545.6,820.6 543,824 540.4,828.8 537.8,836.1 535.5,846.1 532.5,869.2 530.2,911.6 529.3,955.3 529.9,968.6 532.5,974.2 537.8,980.2 540.7,985.4 542.2,990.8 542.1,996.3 540.4,1001.7 540,1007.2 514.2,1007.2 514.2,682.3 516.8,682.3Z" fill="#6f6f6f"/>
<path d="M516.8,682.3 878.2,682.3 878.2,761.3 815.4,766.4 763,771.6 713.2,777.4 671.6,783.3 629.4,790.6 592.8,798.3 564,806 556.1,808.9 550.9,811.7 545.6,815.9 543,819.2 540.4,823.9 537.8,830.9 535.1,842.2 532.5,862.7 529.9,908.6 529.1,955.3 529.8,969 532.2,974.4 537.8,980.9 540.3,985.4 541.8,990.8 541.7,996.3 540,1001.7 539.5,1007.2 514.2,1007.2 514.2,682.3 516.8,682.3Z" fill="#6c6c6c"/>
<path d="M516.8,682.3 878.2,682.3 878.2,758.9 812.7,764 760.4,769 710.6,774.7 668.7,780.5 626.8,787.5 590.1,795.1 564,801.8 556.1,804.6 550,807.9 545.6,811.4 543,814.5 540.4,819 537.8,825.7 535.1,836.6 532.5,856.3 529.9,900.5 529,955.3 529.6,969 529.9,970.9 531.8,974.4 537.8,981.7 539.9,985.4 541.4,990.8 541.3,996.3 539.6,1001.7 539.1,1007.2 514.2,1007.2 514.2,682.3 516.8,682.3Z" fill="#686868"/>
<path d="M516.8,682.3 878.2,682.3 878.2,756.6 812.6,761.5 760.4,766.2 708,772 666.1,777.7 621.6,785 584.9,792.5 561.3,798.6 553.5,801.7 548.2,804.8 543,810 540.4,814.3 537.8,820.8 535.1,831.2 532.5,850.2 529.9,892.6 528.8,952.6 529.4,969 529.9,971.9 531.3,974.4 537.8,982.4 539.4,985.4 541,990.8 540.9,996.3 539.2,1001.7 538.7,1007.2 514.2,1007.2 514.2,682.3 516.8,682.3Z" fill="#656565"/>
<path d="M516.8,682.3 878.2,682.3 878.2,754.3 815.6,758.7 760.4,763.6 710.6,768.8 666.1,774.5 624.2,781.1 584.7,788.8 561.3,794.6 553.5,797.6 548.2,800.6 543,805.6 540.4,809.7 537.8,815.9 535.1,826 532.5,844.2 529.9,885 528.7,949.9 528.9,966.2 529.9,972.8 539,985.4 540.6,990.8 540.5,996.3 538.8,1001.7 538.2,1007.2 514.2,1007.2 514.2,682.3 516.8,682.3Z" fill="#616161"/>
<path d="M516.8,682.3 878.2,682.3 878.2,752 819.6,756 757.7,761.2 708,766.3 666.1,771.5 623.7,777.9 582.3,785.7 559,791.5 553.5,793.6 548.2,796.5 543,801.3 540.4,805.3 537.8,811.2 535.1,820.9 532.5,838.3 529.9,877.5 528.5,947.1 528.7,966.2 529.9,973.6 537,982.6 539.6,988.1 540.2,990.8 540.2,996.3 538.3,1001.7 537.8,1007.2 514.2,1007.2 514.2,682.3 516.8,682.3Z" fill="#5e5e5e"/>
<path d="M516.8,682.3 878.2,682.3 878.2,749.8 818,753.8 760.4,758.4 710.6,763.2 668.7,768.2 624.2,774.5 584.9,781.6 561.3,787 553.5,789.7 548.2,792.5 543,797.1 540.4,800.9 537.8,806.6 535.1,815.9 532.5,832.6 529.9,870.2 528.4,944.4 528.6,966.2 529.9,974.5 536.5,982.6 539.3,988.1 539.9,990.8 539.8,996.3 537.9,1001.7 537.4,1007.2 514.2,1007.2 514.2,682.3 516.8,682.3Z" fill="#5a5a5a"/>
<path d="M516.8,682.3 878.2,682.3 878.2,747.7 815.4,751.7 758.8,756 708,760.8 666.1,765.6 621.6,771.8 582.3,778.6 558.7,784.1 553.5,785.9 547.9,788.8 543,793 540.4,796.6 537.8,802.1 535.1,811 532.5,827 529.9,863 528.3,941.7 528.4,966.2 529.9,975.2 536,982.6 538.9,988.1 539.5,990.8 539.4,996.3 537.5,1001.7 536.9,1007.2 514.2,1007.2 514.2,682.3 516.8,682.3Z" fill="#575757"/>
<path d="M516.8,682.3 878.2,682.3 878.2,745.6 812.7,749.6 757.7,753.7 702.7,758.7 658.2,763.7 614.9,769.7 574.4,776.7 556.1,781.2 550.9,783.3 545.6,786.5 540.4,792.5 537.8,797.7 535.1,806.2 532.5,821.6 529.9,857 528.2,936.2 528.2,966.2 529.9,975.8 535.6,982.6 538.5,988.1 539.1,990.8 539.1,996.3 537.1,1001.7 536.5,1007.2 514.2,1007.2 514.2,682.3 516.8,682.3Z" fill="#535353"/>
<path d="M516.8,682.3 878.2,682.3 878.2,743.5 812.7,747.3 757.7,751.3 703,756 658.2,760.8 612.3,766.9 574.4,773.3 556.1,777.6 550.9,779.6 545.6,782.7 540.4,788.4 537.8,793.4 535.1,801.5 532.5,816.2 529.8,851.6 528.2,928 528,966.2 528.6,971.7 529.9,976.5 535.1,982.7 538.1,988.1 538.8,990.8 538.7,996.3 536.7,1001.7 536.1,1007.2 514.2,1007.2 514.2,682.3 516.8,682.3Z" fill="#4f4f4f"/>
<path d="M516.8,682.3 878.2,682.3 878.2,741.5 813.6,745.1 757.7,748.9 704.7,753.3 658.2,758 611.1,764.1 574.4,770 556.1,774.1 550.9,776 545.6,778.9 540.4,784.3 537.8,789.1 535.1,796.9 532.5,810.9 529.8,846.1 528.1,922.6 527.9,966.2 528.4,971.7 529.9,977.2 535.1,983.4 537.7,988.1 538.4,990.8 538.4,996.3 536.2,1001.7 535.6,1007.2 514.2,1007.2 514.2,682.3 516.8,682.3Z" fill="#4c4c4c"/>
<path d="M516.8,682.3 878.2,682.3 878.2,739.5 815.4,742.8 755.1,746.8 705.4,750.7 658.2,755.3 613.7,760.7 574.4,766.7 556.1,770.6 550.9,772.4 545.6,775.2 540.4,780.4 537.8,785 535.1,792.4 532.5,805.8 529.7,840.7 528,914.4 527.7,966.2 528.2,971.7 529.9,977.8 535.1,984 537.3,988.1 538,990.8 538,996.3 535.8,1001.7 535.2,1007.2 514.2,1007.2 514.2,682.3 516.8,682.3Z" fill="#484848"/>
<path d="M516.8,682.3 878.2,682.3 878.2,737.6 755.1,744.5 705.4,748.2 658.2,752.6 613.7,757.7 574.4,763.4 556.1,767.2 550.9,768.9 545.6,771.6 540.4,776.5 537.8,780.8 535.1,787.9 532.5,800.7 529.7,835.2 528,906.2 527.5,966.2 528.5,974.4 529.9,978.5 535.1,984.7 536.9,988.1 537.7,990.8 537.6,996.3 535.4,1001.7 534.7,1007.2 514.2,1007.2 514.2,682.3 516.8,682.3Z" fill="#454545"/>
<path d="M516.8,682.3 878.2,682.3 878.2,735.6 752.3,742.4 700.1,746.2 651.8,750.6 604,756 567.1,761.5 550.9,765.4 545.6,768 543.3,769.7 540.4,772.6 537.3,777.9 535.1,783.5 532.5,795.6 529.9,822.9 528.9,854.3 527.4,936.2 527.3,966.2 527.8,971.7 529.1,977.2 529.9,979.1 535.1,985.3 536.5,988.1 537.3,990.8 537.3,996.3 535,1001.7 534.3,1004.5 534.3,1007.2 514.2,1007.2 514.2,682.3 516.8,682.3Z" fill="#414141"/>
<path d="M516.8,682.3 878.2,682.3 878.2,733.7 752.5,740.1 697.5,743.9 650.4,748 603.2,753.2 566.6,758.3 550.9,762 545.6,764.4 543,766.2 540.4,768.9 536.8,775.1 535.1,779.1 532.5,790.7 529.9,816.5 528.7,851.6 527.2,936.2 527.3,968.5 528.1,974.4 529.9,979.7 534.7,985.4 536.1,988.1 536.9,990.8 536.9,996.3 534.5,1001.7 533.8,1004.5 533.8,1007.2 514.2,1007.2 514.2,682.3 516.8,682.3Z" fill="#3e3e3e"/>
<path d="M516.8,682.3 878.2,682.3 878.2,731.8 752.5,737.9 697.5,741.5 650.4,745.4 603.2,750.2 566.6,755.1 550.9,758.6 545.6,760.9 543,762.6 540.4,765.1 537.4,769.7 535.1,774.8 532.5,785.7 529.9,810.2 528.7,843.4 527.3,917.1 527,966.2 527.4,971.7 528.6,977.2 529.9,980.3 534.2,985.4 535.7,988.1 536.6,990.8 536.5,996.3 534,1001.7 533.3,1004.5 533.3,1007.2 514.2,1007.2 514.2,682.3 516.8,682.3Z" fill="#3a3a3a"/>
<path d="M516.8,682.3 878.2,682.3 878.2,730 752.5,735.7 697.5,739.1 650.4,742.8 603.2,747.4 566.6,752 550.9,755.2 543,759 540.4,761.4 536.8,766.9 535.1,770.6 532.5,780.9 529.9,804 528.6,837.9 527.2,911.6 526.9,966.2 527.3,972.3 528.3,977.2 529.9,980.9 533.8,985.4 535.4,988.1 536.2,990.8 536.1,996.3 535.3,999 533.6,1001.7 532.8,1004.5 532.8,1007.2 514.2,1007.2 514.2,682.3 516.8,682.3Z" fill="#373737"/>
<path d="M516.8,682.3 878.2,682.3 878.2,728.1 749.9,733.6 650.4,740.1 603.2,744.5 566.6,748.8 550.9,751.9 543,755.5 540.4,757.7 537.5,761.5 535.1,766.3 532.5,776 529.9,797.8 528.6,829.7 527.1,906.2 526.7,966.2 528,977.2 529.9,981.5 534.9,988.1 535.8,990.8 535.8,996.3 533.1,1001.7 532.3,1004.5 532.3,1007.2 514.2,1007.2 514.2,682.3 516.8,682.3Z" fill="#333333"/>
<path d="M516.8,682.3 878.2,682.3 878.2,726.3 752.5,731.3 650.4,737.5 603.2,741.6 566.6,745.7 550.9,748.6 543,751.9 540.4,754 536.9,758.7 535.1,762.1 532.5,771.2 529.9,791.6 528.4,827 527,900.7 526.6,966.2 527.8,977.2 529.9,982.1 534.5,988.1 535.7,993.5 535.1,997.1 531.8,1004.5 531.8,1007.2 514.2,1007.2 514.2,682.3 516.8,682.3Z" fill="#2f2f2f"/>
<path d="M516.8,682.3 878.2,682.3 878.2,724.4 742,729.6 684.4,732.7 634.7,736.1 592.8,739.7 561.3,743.3 548.2,746 543,748.4 540.4,750.3 537.8,753.2 534.8,758.7 532.5,766.4 530.8,777.9 529.1,799.7 527.6,848.8 526.5,925.3 526.5,969 527.3,976.2 528.4,979.9 534,988.1 535.1,990.8 535.4,993.5 535,996.3 531.2,1004.5 531.2,1007.2 514.2,1007.2 514.2,682.3 516.8,682.3Z" fill="#2c2c2c"/>
<path d="M516.8,682.3 878.2,682.3 878.2,722.6 742,727.4 684.4,730.3 634.7,733.4 592.8,736.8 561.3,740.1 548.2,742.6 543,744.8 540.4,746.6 537.8,749.3 535.1,753.7 532.5,761.5 530.8,772.4 529,794.2 527.6,837.9 526.5,911.6 526.4,969 526.8,974.4 528.1,979.9 529.9,983.3 533.6,988.1 535,993.5 534.6,996.3 533.5,999 531.6,1001.7 530.7,1004.5 530.7,1007.2 514.2,1007.2 514.2,682.3 516.8,682.3Z" fill="#282828"/>
<path d="M516.8,682.3 878.2,682.3 878.2,720.7 742,725.1 634.7,730.7 592.8,733.8 561.3,736.9 548.2,739.2 543,741.3 540.4,742.9 537.8,745.4 534.7,750.6 532.5,756.7 530.7,766.9 528.9,788.8 527.6,829.7 526.4,903.5 526.2,969 526.6,974.4 527.8,979.9 529,982.6 533.1,988.1 534.5,993.5 533.1,999 531,1001.7 530.1,1004.5 530.1,1007.2 514.2,1007.2 514.2,682.3 516.8,682.3Z" fill="#252525"/>
<path d="M516.8,682.3 878.2,682.3 878.2,718.8 742,722.9 634.7,728 592.8,730.9 561.3,733.6 548.2,735.8 543,737.7 540.4,739.2 537.8,741.4 535.1,745.1 532.5,751.8 530.7,761.5 529,780.6 527.6,818.8 526.3,892.5 526,969 527.4,979.9 528.6,982.6 532.7,988.1 534.1,993.5 533.7,996.3 532.6,999 530.5,1001.7 529.6,1004.5 529.6,1007.2 514.2,1007.2 514.2,682.3 516.8,682.3Z" fill="#212121"/>
<path d="M516.8,682.3 878.2,682.3 878.2,716.9 728.9,721.1 618.9,726.2 577,729 556.1,731 545.6,733 540.4,735.4 538.4,736.9 535.1,740.8 532.5,746.8 529.9,760.4 528.1,791.5 526.7,843.4 525.9,969 527.3,980.4 528.2,982.6 532.5,988.8 533.7,993.5 532.5,998.2 529.9,1001.7 529.1,1004.5 529.1,1007.2 514.2,1007.2 514.2,682.3 516.8,682.3Z" fill="#1e1e1e"/>
<path d="M516.8,682.3 878.2,682.3 878.2,715 726.3,718.8 613.7,723.5 571.8,726.2 553.5,727.9 543,730.3 537.8,733.4 535.1,736.3 532.5,741.8 529.9,753.9 528,783.3 526.5,837.9 525.7,925.3 525.8,971.7 527.3,981.4 532.5,989.9 533.3,993.5 532.5,997.1 529.3,1001.7 528.6,1004.5 528.6,1007.2 514.2,1007.2 514.2,682.3 516.8,682.3Z" fill="#1a1a1a"/>
<path d="M516.8,682.3 878.2,682.3 878.2,713 728.9,716.2 618.9,720.3 556.1,724 545.6,725.7 540.4,727.5 537.8,729.2 535.1,731.8 532.5,736.6 529.9,747.3 528,772.4 526.5,824.3 525.6,906.2 525.7,971.7 526.1,977.2 527.3,982.4 532.4,990.8 532.8,993.5 532.4,996.3 528.8,1001.7 528.1,1007.2 514.2,1007.2 514.2,682.3 516.8,682.3Z" fill="#171717"/>
<path d="M516.8,682.3 878.2,682.3 878.2,710.9 731.6,713.6 618.9,717.1 556.1,720.4 545.6,721.8 540.4,723.4 537.8,724.8 535.1,727 532.5,731.1 529.6,742.4 527.9,764.2 526.4,810.6 525.5,889.8 525.5,971.7 525.8,977.2 527,982.6 531.8,990.8 532.3,993.5 531.8,996.3 528.2,1001.7 527.6,1007.2 514.2,1007.2 514.2,682.3 516.8,682.3Z" fill="#131313"/>
<path d="M516.8,682.3 878.2,682.3 878.2,708.7 715.8,711.3 595.4,714.7 564,716.1 548.2,717.3 540.4,719 535.1,722 532.5,725.4 530.3,731.4 528.7,742.4 526.7,777.9 525.8,821.5 525.3,971.7 526.5,982.6 531.2,990.8 531.7,993.5 531.2,996.3 527.6,1001.7 527.1,1007.2 514.2,1007.2 514.2,682.3 516.8,682.3Z" fill="#0f0f0f"/>
<path d="M516.8,682.3 878.2,682.3 878.2,706.3 715.8,708.3 592.8,711 548.2,713 540.4,714.3 535.1,716.6 532.5,719.2 530.6,723.3 528.5,734.2 526.7,761.5 525.7,797 525.1,971.7 526.1,982.6 527.3,985.6 530.6,990.8 531.1,993.5 530.6,996.3 527,1001.7 526.6,1007.2 514.2,1007.2 514.2,682.3 516.8,682.3Z" fill="#0c0c0c"/>
<path d="M516.8,682.3 878.2,682.3 878.2,703.5 687,705.2 566.6,707.3 543,708.4 537.8,709.4 535.1,710.4 532.5,712.1 529.9,716 528.7,720.5 526.9,736.9 525.8,761.5 525.2,802.4 525,974.4 525.3,979.9 526.5,985.4 530,990.8 530.5,993.5 530,996.3 526.4,1001.7 526,1007.2 514.2,1007.2 514.2,682.3 516.8,682.3Z" fill="#080808"/>
<path d="M516.8,682.3 878.2,682.3 878.2,699.6 561.3,700.9 537.8,701.6 532.5,702.4 529.9,703.5 527.8,706.9 526.3,712.3 525.1,731.4 524.7,947.1 525.3,982.6 525.8,985.4 529.9,993.5 528.9,996.3 525.7,1001.7 525.5,1007.2 514.2,1007.2 514.2,682.3 516.8,682.3Z" fill="#050505"/>
<path d="M516.8,977.1 524.7,977.1 525.1,985.4 525.8,988.1 527.7,990.8 528.5,993.5 527.7,996.3 525.8,999 525.1,1001.7 525,1007.2 514.2,1007.2 514.2,977.1 516.8,977.1Z" fill="#010101"/>
</g>
</g>
<clipPath id="axJ"><rect x="1110.3" y="698.3" width="331.5" height="292.9"/></clipPath>
<clipPath id="axJ2"><rect x="1110.3" y="698.3" width="331.5" height="304.4"/></clipPath>
<g clip-path="url(#axJ)">
<rect x="1110.3" y="698.3" width="331.5" height="292.9" fill="#7512ff"/>
<g filter="url(#bl1)">
<polygon points="1446.8,698.3 1270.5,698.3 1271.8,703.5 1273.2,708.6 1274.6,713.8 1276.1,718.9 1277.6,724.1 1279.2,729.3 1280.7,734.4 1282.4,739.6 1284,744.7 1285.7,749.9 1287.5,755.1 1289.3,760.2 1291.2,765.4 1293.1,770.5 1295.1,775.7 1297.2,780.8 1299.3,786 1301.5,791.2 1303.7,796.3 1306.1,801.5 1308.5,806.6 1311,811.8 1313.6,817 1316.3,822.1 1319.1,827.3 1322,832.4 1325,837.6 1328.2,842.8 1331.5,847.9 1334.9,853.1 1338.5,858.2 1342.3,863.4 1346.3,868.6 1350.5,873.7 1354.9,878.9 1359.5,884 1364.5,889.2 1369.7,894.4 1375.2,899.5 1381.1,904.7 1387.4,909.8 1394.2,915 1401.5,920.2 1409.4,925.3 1417.9,930.5 1427.3,935.6 1437.5,940.8 1446.8,945.9 1446.8,951.1 1446.8,956.3 1446.8,961.4 1446.8,966.6 1446.8,971.7 1446.8,976.9 1446.8,982.1 1446.8,987.2 1446.8,992.4 1446.8,997.5 1446.8,1002.7 1446.8,1002.7" fill="#4df3ce" />
</g><filter id="bl2"><feGaussianBlur stdDeviation="2.2"/></filter><g filter="url(#bl2)">
<polygon points="1105.3,927.8 1109.9,927.8 1115.5,927.8 1122.5,936 1124.7,950.3 1132.8,954.3 1139,968.9 1151.3,970.7 1165.8,978 1206.7,978 1209.7,993.6 1105.3,993.6" fill="#4df3ce" />
<rect x="1108.3" y="804.8" width="7" height="124.8" fill="#38e7d7"/>
<rect x="1206.4" y="988" width="240.4" height="8" fill="#0ac0e8"/>
</g></g>
<g stroke-linejoin="round" clip-path="url(#axJ2)"><polyline points="1277.1,710.5 1279.3,714.7 1281.5,718.9 1283.8,723.1 1286.2,727.4 1288.6,731.6 1291.1,735.8 1293.7,740 1296.3,744.2 1299,748.4 1301.8,752.7 1304.6,756.9 1307.6,761.1 1310.6,765.3 1313.8,769.5 1317,773.8 1320.3,778 1323.8,782.2 1327.3,786.4 1331,790.6 1334.8,794.9 1338.7,799.1 1342.8,803.3 1347,807.5 1351.3,811.7 1355.8,816 1360.5,820.2 1365.4,824.4 1370.4,828.6 1375.7,832.8 1381.1,837 1386.8,841.3 1392.7,845.5 1398.9,849.7 1405.4,853.9 1412.1,858.1 1419.2,862.4 1426.6,866.6 1434.3,870.8 1442.5,875" fill="none" stroke="#fff" stroke-width="15.2" /><polyline points="1277.1,710.5 1279.3,714.7 1281.5,718.9 1283.8,723.1 1286.2,727.4 1288.6,731.6 1291.1,735.8 1293.7,740 1296.3,744.2 1299,748.4 1301.8,752.7 1304.6,756.9 1307.6,761.1 1310.6,765.3 1313.8,769.5 1317,773.8 1320.3,778 1323.8,782.2 1327.3,786.4 1331,790.6 1334.8,794.9 1338.7,799.1 1342.8,803.3 1347,807.5 1351.3,811.7 1355.8,816 1360.5,820.2 1365.4,824.4 1370.4,828.6 1375.7,832.8 1381.1,837 1386.8,841.3 1392.7,845.5 1398.9,849.7 1405.4,853.9 1412.1,858.1 1419.2,862.4 1426.6,866.6 1434.3,870.8 1442.5,875" fill="none" stroke="#0000ff" stroke-width="5.2" /><polyline points="1273.7,710.5 1275.4,716.4 1277.1,722.4 1278.9,728.4 1280.7,734.3 1282.6,740.3 1284.5,746.3 1286.5,752.2 1288.6,758.2 1290.8,764.2 1293,770.1 1295.3,776.1 1297.6,782 1300.1,788 1302.7,794 1305.3,799.9 1308.1,805.9 1311,811.9 1314,817.8 1317.2,823.8 1320.5,829.8 1323.9,835.7 1327.5,841.7 1331.3,847.7 1335.3,853.6 1339.5,859.6 1344,865.6 1348.7,871.5 1353.7,877.5 1359,883.4 1364.7,889.4 1370.7,895.4 1377.2,901.3 1384.3,907.3 1391.9,913.3 1400.1,919.2 1409.2,925.2 1419.1,931.2 1430.1,937.1 1442.5,943.1" fill="none" stroke="#fff" stroke-width="15.2" /><polyline points="1273.7,710.5 1275.4,716.4 1277.1,722.4 1278.9,728.4 1280.7,734.3 1282.6,740.3 1284.5,746.3 1286.5,752.2 1288.6,758.2 1290.8,764.2 1293,770.1 1295.3,776.1 1297.6,782 1300.1,788 1302.7,794 1305.3,799.9 1308.1,805.9 1311,811.9 1314,817.8 1317.2,823.8 1320.5,829.8 1323.9,835.7 1327.5,841.7 1331.3,847.7 1335.3,853.6 1339.5,859.6 1344,865.6 1348.7,871.5 1353.7,877.5 1359,883.4 1364.7,889.4 1370.7,895.4 1377.2,901.3 1384.3,907.3 1391.9,913.3 1400.1,919.2 1409.2,925.2 1419.1,931.2 1430.1,937.1 1442.5,943.1" fill="none" stroke="#ffa500" stroke-width="5.2" /></g>
<clipPath id="axK"><rect x="1566.2" y="698.3" width="314.6" height="292.9"/></clipPath>
<g clip-path="url(#axK)">
<rect x="1566.2" y="698.3" width="314.6" height="292.9" fill="#f0f0f0"/>
<g filter="url(#bl1)">
<polygon points="1885.8,692.2 1718.8,692.2 1718.8,698.1 1718.8,698.1 1718.8,703.9 1721.4,703.9 1721.4,709.8 1721.4,709.8 1721.4,715.6 1724.1,715.6 1724.1,721.5 1724.1,721.5 1724.1,727.3 1726.7,727.3 1726.7,733.2 1729.4,733.2 1729.4,739 1729.4,739 1729.4,744.9 1732,744.9 1732,750.7 1734.7,750.7 1734.7,756.6 1737.3,756.6 1737.3,762.4 1737.3,762.4 1737.3,768.3 1740,768.3 1740,774.1 1742.6,774.1 1742.6,780 1745.2,780 1745.2,785.8 1747.9,785.8 1747.9,791.6 1750.6,791.6 1750.6,797.5 1750.6,797.5 1750.6,803.3 1753.2,803.3 1753.2,809.2 1755.9,809.2 1755.9,815 1761.2,815 1761.2,820.9 1763.8,820.9 1763.8,826.7 1766.5,826.7 1766.5,832.6 1769.1,832.6 1769.1,838.4 1771.8,838.4 1771.8,844.3 1777.1,844.3 1777.1,850.1 1779.7,850.1 1779.7,856 1782.4,856 1782.4,861.8 1787.7,861.8 1787.7,867.7 1793,867.7 1793,873.5 1795.6,873.5 1795.6,879.4 1800.9,879.4 1800.9,885.2 1806.2,885.2 1806.2,891.1 1811.5,891.1 1811.5,896.9 1816.8,896.9 1816.8,902.8 1824.8,902.8 1824.8,908.6 1832.7,908.6 1832.7,914.5 1838,914.5 1838,920.3 1846,920.3 1846,926.2 1856.6,926.2 1856.6,932 1867.2,932 1867.2,937.9 1877.8,937.9 1877.8,943.7 1885.8,943.7 1885.8,949.6 1885.8,949.6 1885.8,955.4 1885.8,955.4 1885.8,961.3 1885.8,961.3 1885.8,967.1 1885.8,967.1 1885.8,973 1885.8,973 1885.8,978.8 1885.8,978.8 1885.8,984.7 1885.8,984.7 1885.8,990.5 1885.8,990.5" fill="#000" />
</g><g filter="url(#bl2)">
<polygon points="1561.2,927.8 1566.4,927.8 1571.7,927.8 1578.3,936 1580.4,950.3 1588.1,954.3 1593.9,968.9 1605.6,970.7 1619.4,978 1658.1,978 1661,993.6 1561.2,993.6" fill="#000" />
<rect x="1564.2" y="804.8" width="6.5" height="124.8" fill="#000"/>
<rect x="1657.8" y="988.6" width="223" height="4" fill="#666"/>
</g></g>
<rect x="95.4" y="698.3" width="314.8" height="304.4" fill="none" stroke="#000" stroke-width="2"/>
<path d="M117.9,1002.7v9.3M144.5,1002.7v9.3M171,1002.7v9.3M197.6,1002.7v9.3M224.2,1002.7v9.3M250.8,1002.7v9.3M277.4,1002.7v9.3M303.9,1002.7v9.3M330.5,1002.7v9.3M357.1,1002.7v9.3M383.7,1002.7v9.3M410.3,1002.7v9.3" stroke="#000" stroke-width="2" fill="none"/>
<path d="M95.4,1002.7h-9.3M95.4,926.6h-9.3M95.4,850.5h-9.3M95.4,774.4h-9.3M95.4,698.3h-9.3" stroke="#000" stroke-width="2" fill="none"/>
<text x="224.2" y="1046.5" font-size="31.8" text-anchor="middle" >50</text>
<text x="357.1" y="1046.5" font-size="31.8" text-anchor="middle" >100</text>
<text x="252.8" y="1094" font-size="39.6" text-anchor="middle"><tspan font-style="italic">f</tspan><tspan font-size="27.3" dy="6.5">RR</tspan><tspan dy="-6.5"> (Hz)</tspan></text>
<text x="76.4" y="710" font-size="31.8" text-anchor="end" >1</text>
<text x="76.4" y="1014.4" font-size="31.8" text-anchor="end" >0</text>
<text transform="translate(49.4,853.5) rotate(-90)" font-size="39.6" text-anchor="middle" ><tspan font-style="italic">L</tspan>/<tspan font-style="italic">M</tspan></text>
<rect x="530.2" y="698.3" width="332" height="304.4" fill="none" stroke="#000" stroke-width="2"/>
<path d="M554.1,1002.7v9.3M582,1002.7v9.3M610,1002.7v9.3M638,1002.7v9.3M666,1002.7v9.3M693.9,1002.7v9.3M721.9,1002.7v9.3M749.9,1002.7v9.3M777.8,1002.7v9.3M805.8,1002.7v9.3M833.8,1002.7v9.3M861.7,1002.7v9.3" stroke="#000" stroke-width="2" fill="none"/>
<path d="M530.2,1002.7h-9.3M530.2,926.6h-9.3M530.2,850.5h-9.3M530.2,774.4h-9.3M530.2,698.3h-9.3" stroke="#000" stroke-width="2" fill="none"/>
<text x="666" y="1046.5" font-size="31.8" text-anchor="middle" >50</text>
<text x="805.8" y="1046.5" font-size="31.8" text-anchor="middle" >100</text>
<text x="696.2" y="1094" font-size="39.6" text-anchor="middle"><tspan font-style="italic">f</tspan><tspan font-size="27.3" dy="6.5">RR</tspan><tspan dy="-6.5"> (Hz)</tspan></text>
<rect x="1110.3" y="698.3" width="331.5" height="304.4" fill="none" stroke="#000" stroke-width="2"/>
<path d="M1133.7,1002.7v9.3M1161.6,1002.7v9.3M1189.6,1002.7v9.3M1217.6,1002.7v9.3M1245.5,1002.7v9.3M1273.5,1002.7v9.3M1301.5,1002.7v9.3M1329.5,1002.7v9.3M1357.4,1002.7v9.3M1385.4,1002.7v9.3M1413.4,1002.7v9.3M1441.3,1002.7v9.3" stroke="#000" stroke-width="2" fill="none"/>
<path d="M1110.3,1002.7h-9.3M1110.3,926.6h-9.3M1110.3,850.5h-9.3M1110.3,774.4h-9.3M1110.3,698.3h-9.3" stroke="#000" stroke-width="2" fill="none"/>
<text x="1245.5" y="1046.5" font-size="31.8" text-anchor="middle" >50</text>
<text x="1385.4" y="1046.5" font-size="31.8" text-anchor="middle" >100</text>
<text x="1276" y="1094" font-size="39.6" text-anchor="middle"><tspan font-style="italic">f</tspan><tspan font-size="27.3" dy="6.5">RR</tspan><tspan dy="-6.5"> (Hz)</tspan></text>
<text x="1091.3" y="710" font-size="31.8" text-anchor="end" >1</text>
<text x="1091.3" y="1014.4" font-size="31.8" text-anchor="end" >0</text>
<text transform="translate(1064.3,853.5) rotate(-90)" font-size="39.6" text-anchor="middle" ><tspan font-style="italic">L</tspan>/<tspan font-style="italic">M</tspan></text>
<rect x="1566.2" y="698.3" width="314.6" height="304.4" fill="none" stroke="#000" stroke-width="2"/>
<path d="M1588.9,1002.7v9.3M1615.4,1002.7v9.3M1641.9,1002.7v9.3M1668.4,1002.7v9.3M1694.9,1002.7v9.3M1721.4,1002.7v9.3M1747.9,1002.7v9.3M1774.4,1002.7v9.3M1800.9,1002.7v9.3M1827.4,1002.7v9.3M1853.9,1002.7v9.3M1880.4,1002.7v9.3" stroke="#000" stroke-width="2" fill="none"/>
<path d="M1566.2,1002.7h-9.3M1566.2,926.6h-9.3M1566.2,850.5h-9.3M1566.2,774.4h-9.3M1566.2,698.3h-9.3" stroke="#000" stroke-width="2" fill="none"/>
<text x="1694.9" y="1046.5" font-size="31.8" text-anchor="middle" >50</text>
<text x="1827.4" y="1046.5" font-size="31.8" text-anchor="middle" >100</text>
<text x="1723.5" y="1094" font-size="39.6" text-anchor="middle"><tspan font-style="italic">f</tspan><tspan font-size="27.3" dy="6.5">RR</tspan><tspan dy="-6.5"> (Hz)</tspan></text>
<linearGradient id="gcb0" x1="0" y1="0" x2="0" y2="1"><stop offset="0%" stop-color="#ff0000"/><stop offset="4.2%" stop-color="#ff1f10"/><stop offset="8.3%" stop-color="#ff4121"/><stop offset="12.5%" stop-color="#ff5f30"/><stop offset="16.7%" stop-color="#ff7e41"/><stop offset="20.8%" stop-color="#ff9b52"/><stop offset="25%" stop-color="#ffb360"/><stop offset="29.2%" stop-color="#ebca70"/><stop offset="33.3%" stop-color="#d4dd80"/><stop offset="37.5%" stop-color="#c0eb8d"/><stop offset="41.7%" stop-color="#abf69b"/><stop offset="45.8%" stop-color="#94fda8"/><stop offset="50%" stop-color="#80ffb4"/><stop offset="54.2%" stop-color="#6afdc0"/><stop offset="58.3%" stop-color="#54f6cb"/><stop offset="62.5%" stop-color="#40ecd4"/><stop offset="66.7%" stop-color="#2adddd"/><stop offset="70.8%" stop-color="#14cae5"/><stop offset="75%" stop-color="#00b5eb"/><stop offset="79.2%" stop-color="#169bf2"/><stop offset="83.3%" stop-color="#2c7ef7"/><stop offset="87.5%" stop-color="#4062fa"/><stop offset="91.7%" stop-color="#5641fd"/><stop offset="95.8%" stop-color="#6c1fff"/><stop offset="100%" stop-color="#8000ff"/></linearGradient><rect x="430" y="698.3" width="15.5" height="304.4" fill="url(#gcb0)" stroke="#000" stroke-width="2"/>
<path d="M445.5,1002.7h9.3M445.5,941.8h9.3M445.5,880.9h9.3M445.5,820.1h9.3M445.5,759.2h9.3M445.5,698.3h9.3" stroke="#000" stroke-width="2" fill="none"/>
<text x="464.5" y="710" font-size="31.8" >1</text>
<text x="464.5" y="1014.4" font-size="31.8" >0.0</text>
<linearGradient id="gcb1" x1="0" y1="0" x2="0" y2="1"><stop offset="0%" stop-color="#000000"/><stop offset="4.2%" stop-color="#0a0a0a"/><stop offset="8.3%" stop-color="#151515"/><stop offset="12.5%" stop-color="#1f1f1f"/><stop offset="16.7%" stop-color="#2a2a2a"/><stop offset="20.8%" stop-color="#353535"/><stop offset="25%" stop-color="#3f3f3f"/><stop offset="29.2%" stop-color="#4a4a4a"/><stop offset="33.3%" stop-color="#555555"/><stop offset="37.5%" stop-color="#5f5f5f"/><stop offset="41.7%" stop-color="#6a6a6a"/><stop offset="45.8%" stop-color="#757575"/><stop offset="50%" stop-color="#7f7f7f"/><stop offset="54.2%" stop-color="#8a8a8a"/><stop offset="58.3%" stop-color="#959595"/><stop offset="62.5%" stop-color="#9f9f9f"/><stop offset="66.7%" stop-color="#aaaaaa"/><stop offset="70.8%" stop-color="#b5b5b5"/><stop offset="75%" stop-color="#bfbfbf"/><stop offset="79.2%" stop-color="#cacaca"/><stop offset="83.3%" stop-color="#d5d5d5"/><stop offset="87.5%" stop-color="#dfdfdf"/><stop offset="91.7%" stop-color="#eaeaea"/><stop offset="95.8%" stop-color="#f5f5f5"/><stop offset="100%" stop-color="#ffffff"/></linearGradient><rect x="881.9" y="698.3" width="16.3" height="304.4" fill="url(#gcb1)" stroke="#000" stroke-width="2"/>
<path d="M898.2,1002.7h9.3M898.2,941.8h9.3M898.2,880.9h9.3M898.2,820.1h9.3M898.2,759.2h9.3M898.2,698.3h9.3" stroke="#000" stroke-width="2" fill="none"/>
<text x="917.2" y="710" font-size="31.8" >1</text>
<text x="917.2" y="1014.4" font-size="31.8" >0.0</text>
<linearGradient id="gcb2" x1="0" y1="0" x2="0" y2="1"><stop offset="0%" stop-color="#ff0000"/><stop offset="4.2%" stop-color="#ff1f10"/><stop offset="8.3%" stop-color="#ff4121"/><stop offset="12.5%" stop-color="#ff5f30"/><stop offset="16.7%" stop-color="#ff7e41"/><stop offset="20.8%" stop-color="#ff9b52"/><stop offset="25%" stop-color="#ffb360"/><stop offset="29.2%" stop-color="#ebca70"/><stop offset="33.3%" stop-color="#d4dd80"/><stop offset="37.5%" stop-color="#c0eb8d"/><stop offset="41.7%" stop-color="#abf69b"/><stop offset="45.8%" stop-color="#94fda8"/><stop offset="50%" stop-color="#80ffb4"/><stop offset="54.2%" stop-color="#6afdc0"/><stop offset="58.3%" stop-color="#54f6cb"/><stop offset="62.5%" stop-color="#40ecd4"/><stop offset="66.7%" stop-color="#2adddd"/><stop offset="70.8%" stop-color="#14cae5"/><stop offset="75%" stop-color="#00b5eb"/><stop offset="79.2%" stop-color="#169bf2"/><stop offset="83.3%" stop-color="#2c7ef7"/><stop offset="87.5%" stop-color="#4062fa"/><stop offset="91.7%" stop-color="#5641fd"/><stop offset="95.8%" stop-color="#6c1fff"/><stop offset="100%" stop-color="#8000ff"/></linearGradient><rect x="1462" y="698.3" width="16.1" height="304.4" fill="url(#gcb2)" stroke="#000" stroke-width="2"/>
<path d="M1478.1,1002.7h9.3M1478.1,941.8h9.3M1478.1,880.9h9.3M1478.1,820.1h9.3M1478.1,759.2h9.3M1478.1,698.3h9.3" stroke="#000" stroke-width="2" fill="none"/>
<text x="1497.1" y="710" font-size="31.8" >1</text>
<text x="1497.1" y="1014.4" font-size="31.8" >0.0</text>
<linearGradient id="gcb3" x1="0" y1="0" x2="0" y2="1"><stop offset="0%" stop-color="#000000"/><stop offset="4.2%" stop-color="#0a0a0a"/><stop offset="8.3%" stop-color="#151515"/><stop offset="12.5%" stop-color="#1f1f1f"/><stop offset="16.7%" stop-color="#2a2a2a"/><stop offset="20.8%" stop-color="#353535"/><stop offset="25%" stop-color="#3f3f3f"/><stop offset="29.2%" stop-color="#4a4a4a"/><stop offset="33.3%" stop-color="#555555"/><stop offset="37.5%" stop-color="#5f5f5f"/><stop offset="41.7%" stop-color="#6a6a6a"/><stop offset="45.8%" stop-color="#757575"/><stop offset="50%" stop-color="#7f7f7f"/><stop offset="54.2%" stop-color="#8a8a8a"/><stop offset="58.3%" stop-color="#959595"/><stop offset="62.5%" stop-color="#9f9f9f"/><stop offset="66.7%" stop-color="#aaaaaa"/><stop offset="70.8%" stop-color="#b5b5b5"/><stop offset="75%" stop-color="#bfbfbf"/><stop offset="79.2%" stop-color="#cacaca"/><stop offset="83.3%" stop-color="#d5d5d5"/><stop offset="87.5%" stop-color="#dfdfdf"/><stop offset="91.7%" stop-color="#eaeaea"/><stop offset="95.8%" stop-color="#f5f5f5"/><stop offset="100%" stop-color="#ffffff"/></linearGradient><rect x="1900.6" y="698.3" width="15.7" height="304.4" fill="url(#gcb3)" stroke="#000" stroke-width="2"/>
<path d="M1916.3,1002.7h9.3M1916.3,941.8h9.3M1916.3,880.9h9.3M1916.3,820.1h9.3M1916.3,759.2h9.3M1916.3,698.3h9.3" stroke="#000" stroke-width="2" fill="none"/>
<text x="1935.3" y="710" font-size="31.8" >1</text>
<text x="1935.3" y="1014.4" font-size="31.8" >0.0</text>
<text x="196.4" y="881.5" font-size="47.5" text-anchor="middle" fill="#fff" >(i)</text>
<text x="369.2" y="758.9" font-size="47.5" text-anchor="middle" >(iii)</text>
<text x="375.6" y="905.5" font-size="47.5" text-anchor="middle" >(ii)</text>
<text x="278" y="973.2" font-size="47.5" fill="#fff">&#10216;<tspan font-style="italic" dx="1">w</tspan>&#10217;<tspan font-size="33.2" dy="7.5" dx="-1.5">ac</tspan></text>
<text x="1329" y="973.2" font-size="47.5" fill="#fff">&#10216;<tspan font-style="italic" dx="1">w</tspan>&#10217;<tspan font-size="33.2" dy="7.5" dx="-1.5">ll</tspan></text>
<text x="750" y="972" font-size="47.5"><tspan font-style="italic">&#961;</tspan><tspan font-size="33.2" dy="7.5" dx="1">&#916;,</tspan><tspan font-size="33.2" dx="4.5">ac</tspan></text>
<text x="1774.5" y="972" font-size="47.5"><tspan font-style="italic">&#961;</tspan><tspan font-size="33.2" dy="7.5" dx="1">&#916;,</tspan><tspan font-size="33.2" dx="4.5">ll</tspan></text>
<text x="120.5" y="97" font-size="34" font-weight="bold" fill="#000" style="font-family:'Liberation Sans',Arial,Helvetica,sans-serif">A</text>
<text x="452.5" y="96.5" font-size="34" font-weight="bold" fill="#000" style="font-family:'Liberation Sans',Arial,Helvetica,sans-serif">B</text>
<text x="1043.4" y="79.5" font-size="34" font-weight="bold" fill="#000" style="font-family:'Liberation Sans',Arial,Helvetica,sans-serif">C</text>
<text x="1560.1" y="84" font-size="34" font-weight="bold" fill="#000" style="font-family:'Liberation Sans',Arial,Helvetica,sans-serif">D</text>
<text x="1066" y="431.9" font-size="34" font-weight="bold" fill="#000" style="font-family:'Liberation Sans',Arial,Helvetica,sans-serif">E</text>
<text x="1374.8" y="430.3" font-size="34" font-weight="bold" fill="#000" style="font-family:'Liberation Sans',Arial,Helvetica,sans-serif">F</text>
<text x="1918.3" y="538" font-size="34" font-weight="bold" fill="#000" style="font-family:'Liberation Sans',Arial,Helvetica,sans-serif">G</text>
<text x="113.7" y="747.2" font-size="34" font-weight="bold" fill="#fff" style="font-family:'Liberation Sans',Arial,Helvetica,sans-serif">H</text>
<text x="550.3" y="744.7" font-size="34" font-weight="bold" fill="#fff" style="font-family:'Liberation Sans',Arial,Helvetica,sans-serif">I</text>
<text x="1128.3" y="741.9" font-size="34" font-weight="bold" fill="#fff" style="font-family:'Liberation Sans',Arial,Helvetica,sans-serif">J</text>
<text x="1582.7" y="742" font-size="34" font-weight="bold" fill="#000" style="font-family:'Liberation Sans',Arial,Helvetica,sans-serif">K</text>
</svg></body></html>
